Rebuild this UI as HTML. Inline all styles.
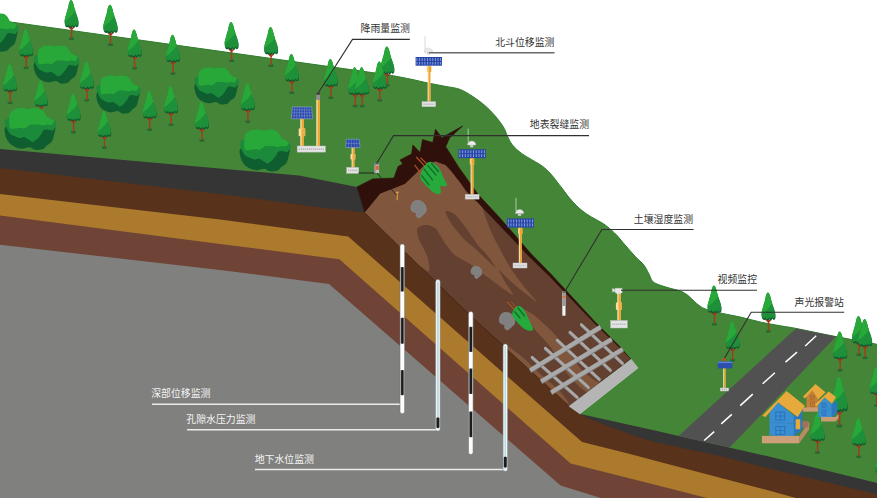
<!DOCTYPE html>
<html lang="zh"><head><meta charset="utf-8"><title>Landslide monitoring</title>
<style>html,body{margin:0;padding:0;background:#fff;font-family:"Liberation Sans",sans-serif}svg{display:block}</style></head>
<body><svg width="877" height="498" viewBox="0 0 877 498">
<rect width="877" height="498" fill="#fff"/>
<path d="M0,20.5L390,75.1C393.3,75.8 403.5,77.7 410.0,79.0C416.5,80.3 423.1,82.0 428.9,83.2C434.7,84.4 439.8,85.3 445.0,86.3C450.2,87.3 455.4,87.7 460.0,89.4C464.6,91.1 468.3,93.6 472.5,96.3C476.7,99.0 481.5,102.7 485.1,105.7C488.7,108.7 491.2,111.5 493.9,114.5C496.6,117.5 499.5,121.3 501.4,123.9C503.2,126.5 504.0,127.9 505.0,130.0C506.0,132.1 506.2,133.8 507.5,136.3C508.8,138.8 510.2,142.3 512.5,145.1C514.8,147.9 518.1,150.8 521.3,153.2C524.4,155.6 527.8,157.3 531.4,159.5C535.0,161.7 539.6,164.1 542.7,166.4C545.8,168.7 547.9,170.9 550.2,173.3C552.5,175.7 554.4,178.4 556.4,181.0C558.4,183.6 560.0,185.6 562.5,188.8C565.0,192.0 568.1,196.6 571.3,200.1C574.4,203.6 578.0,207.3 581.4,210.1C584.8,212.9 587.8,214.8 591.4,217.0C595.0,219.2 599.4,221.1 602.7,223.3C606.1,225.5 609.1,228.1 611.5,230.2C613.9,232.3 615.0,233.3 617.3,235.8C619.6,238.3 622.1,241.6 625.1,245.0C628.1,248.4 632.0,253.0 635.1,256.3C638.2,259.7 641.6,262.2 643.9,265.1C646.2,268.0 647.4,271.2 648.9,273.9C650.4,276.6 650.8,279.5 652.7,281.4C654.6,283.3 657.3,284.0 660.2,285.2C663.1,286.4 666.9,287.3 670.2,288.3C673.5,289.3 677.3,289.9 680.2,291.0C683.1,292.1 684.8,293.1 687.5,295.1C690.2,297.1 693.4,300.9 696.3,303.2C699.2,305.5 700.9,307.2 705.1,308.9C709.3,310.6 715.5,311.8 721.4,313.2C727.2,314.6 733.7,315.5 740.2,317.0C746.7,318.5 753.6,320.5 760.3,322.0C767.0,323.5 774.5,324.7 780.4,325.8C786.3,326.9 786.6,326.6 795.9,328.4C805.2,330.2 822.5,334.0 836.0,336.6C849.5,339.2 870.2,343.0 877.0,344.3L877,498L0,498Z" fill="#458538"/>
<path d="M0,20.5L390,75.1C393.3,75.8 403.5,77.7 410.0,79.0C416.5,80.3 423.1,82.0 428.9,83.2C434.7,84.4 439.8,85.3 445.0,86.3C450.2,87.3 455.4,87.7 460.0,89.4C464.6,91.1 468.3,93.6 472.5,96.3C476.7,99.0 481.5,102.7 485.1,105.7C488.7,108.7 491.2,111.5 493.9,114.5C496.6,117.5 499.5,121.3 501.4,123.9C503.2,126.5 504.0,127.9 505.0,130.0C506.0,132.1 506.2,133.8 507.5,136.3C508.8,138.8 510.2,142.3 512.5,145.1C514.8,147.9 518.1,150.8 521.3,153.2C524.4,155.6 527.8,157.3 531.4,159.5C535.0,161.7 539.6,164.1 542.7,166.4C545.8,168.7 547.9,170.9 550.2,173.3C552.5,175.7 554.4,178.4 556.4,181.0C558.4,183.6 560.0,185.6 562.5,188.8C565.0,192.0 568.1,196.6 571.3,200.1C574.4,203.6 578.0,207.3 581.4,210.1C584.8,212.9 587.8,214.8 591.4,217.0C595.0,219.2 599.4,221.1 602.7,223.3C606.1,225.5 609.1,228.1 611.5,230.2C613.9,232.3 615.0,233.3 617.3,235.8C619.6,238.3 622.1,241.6 625.1,245.0C628.1,248.4 632.0,253.0 635.1,256.3C638.2,259.7 641.6,262.2 643.9,265.1C646.2,268.0 647.4,271.2 648.9,273.9C650.4,276.6 650.8,279.5 652.7,281.4C654.6,283.3 657.3,284.0 660.2,285.2C663.1,286.4 666.9,287.3 670.2,288.3C673.5,289.3 677.3,289.9 680.2,291.0C683.1,292.1 684.8,293.1 687.5,295.1C690.2,297.1 693.4,300.9 696.3,303.2C699.2,305.5 700.9,307.2 705.1,308.9C709.3,310.6 715.5,311.8 721.4,313.2C727.2,314.6 733.7,315.5 740.2,317.0C746.7,318.5 753.6,320.5 760.3,322.0C767.0,323.5 774.5,324.7 780.4,325.8C786.3,326.9 786.6,326.6 795.9,328.4C805.2,330.2 822.5,334.0 836.0,336.6C849.5,339.2 870.2,343.0 877.0,344.3" fill="none" stroke="#2f7d2e" stroke-width="1"/>
<polygon points="0.0,149.0 299.0,175.6 357.0,186.9 361.4,201.3 364.9,212.4 473.1,318.0 569.4,405.7 580.4,414.0 657.0,431.0 767.0,456.1 877.0,483.0 877.0,600.0 0.0,600.0" fill="#353535" />
<polygon points="0.0,168.0 220.0,194.0 320.0,207.4 364.9,212.4 473.1,318.0 569.4,405.7 580.4,414.0 585.2,417.0 610.7,427.0 636.7,436.8 657.0,442.5 720.0,456.0 767.0,468.0 877.0,494.3 877.0,600.0 0.0,600.0" fill="#58321a" />
<polygon points="0.0,194.0 220.0,219.6 348.2,236.5 582.1,442.0 630.0,454.0 660.0,462.0 767.0,490.0 795.9,498.0 877.0,520.0 877.0,600.0 0.0,600.0" fill="#ab7a2c" />
<polygon points="0.0,215.6 220.0,244.0 339.4,259.3 570.6,463.5 660.0,486.0 707.0,498.0 877.0,540.0 877.0,600.0 0.0,600.0" fill="#6f4336" />
<polygon points="0.0,244.7 220.0,270.0 329.0,284.0 560.6,485.6 600.8,498.0 877.0,560.0 877.0,600.0 0.0,600.0" fill="#80807e" />
<polygon points="357.0,186.9 372.7,179.0 394.0,178.0 398.0,166.6 402.8,164.0 400.0,160.0 411.6,154.0 412.9,145.0 420.2,152.6 422.5,139.6 432.8,142.6 435.5,129.2 441.8,137.7 462.5,126.1 449.5,138.1 445.7,146.7 445.7,146.7 459.0,167.7 478.1,194.4 497.2,215.0 515.2,235.5 530.3,253.0 550.8,273.9 565.8,290.2 596.0,322.9 620.0,346.7 630.5,358.8 569.4,405.7 473.1,318.0 364.9,212.4 361.4,201.3" fill="#30100a" stroke="#30100a" stroke-width="0.7" stroke-linejoin="round"/>
<polygon points="364.9,212.4 380.2,193.8 405.0,184.0 424.0,165.8 435.5,161.5 445.5,165.3 451.4,171.5 466.5,191.0 489.5,215.0 511.5,238.0 528.3,256.0 549.0,276.0 564.3,292.0 595.0,324.0 619.3,347.5 630.5,358.8 569.4,405.7 473.1,318.0" fill="#634030" />
<clipPath id="massclip"><polygon points="364.9,212.4 380.2,193.8 405.0,184.0 424.0,165.8 435.5,161.5 445.5,165.3 451.4,171.5 466.5,191.0 489.5,215.0 511.5,238.0 528.3,256.0 549.0,276.0 564.3,292.0 595.0,324.0 619.3,347.5 630.5,358.8 569.4,405.7 473.1,318.0"/></clipPath>
<g clip-path="url(#massclip)">
<path d="M360.0,210.0C357.5,202.5 374.6,193.8 380.2,190.0C385.8,186.2 399.5,183.5 405.0,180.0C410.5,176.5 420.2,164.8 424.0,162.0C427.8,159.2 432.6,158.0 435.5,158.0C438.4,158.0 444.6,160.5 447.0,162.0C449.4,163.5 453.4,167.6 455.0,170.0C456.6,172.4 458.6,178.2 460.0,181.0C461.4,183.8 464.2,189.6 466.0,192.0C467.8,194.4 472.2,198.5 474.0,200.0C475.8,201.5 479.4,202.6 480.6,204.0C481.8,205.4 482.7,209.1 483.6,211.6C484.5,214.1 486.8,220.9 488.0,224.0C489.2,227.1 491.9,233.3 493.4,236.4C494.9,239.5 498.3,245.8 500.0,249.0C501.7,252.2 505.0,258.6 507.0,262.0C509.0,265.4 513.6,272.6 516.0,276.0C518.4,279.4 523.4,285.8 526.0,289.0C528.6,292.2 537.6,301.9 537.0,302.0C536.4,302.1 524.6,292.9 521.0,290.0C517.4,287.1 510.8,281.5 508.0,279.0C505.2,276.5 499.4,269.6 499.0,270.0C498.6,270.4 503.3,278.9 505.0,282.0C506.7,285.1 514.6,295.4 512.7,295.0C510.8,294.6 495.3,282.9 490.0,279.0C484.7,275.1 474.4,267.0 470.0,264.0C465.6,261.0 458.0,257.6 455.0,255.2C452.0,252.8 447.9,247.2 446.0,244.7C444.1,242.2 441.2,236.8 440.0,234.9C438.8,233.0 437.3,230.3 436.2,229.2C435.1,228.1 432.3,226.5 431.0,226.0C429.7,225.5 427.4,225.1 426.1,225.1C424.9,225.1 422.1,225.5 421.0,226.0C419.9,226.5 417.5,227.8 417.1,229.2C416.8,230.6 417.4,234.9 418.2,237.2C418.9,239.4 421.9,244.7 423.1,247.2C424.3,249.7 426.8,255.0 427.5,257.3C428.2,259.6 429.2,263.6 429.1,265.3C429.1,267.0 430.7,272.9 427.1,271.0C423.5,269.1 408.4,257.6 400.0,250.0C391.6,242.4 362.5,217.5 360.0,210.0Z" fill="#80563c" />
<path d="M446.0,210.8C447.1,210.6 452.0,211.9 455.0,214.6C458.0,217.3 463.9,225.3 467.1,229.6C470.3,233.9 474.8,241.1 477.6,244.7C480.4,248.3 484.5,251.8 487.0,255.0C489.5,258.2 495.7,266.9 495.4,267.3C495.1,267.7 487.8,260.5 485.0,258.0C482.2,255.5 478.9,252.0 476.1,249.5C473.3,247.0 468.6,243.8 465.6,240.8C462.6,237.8 457.7,232.1 455.0,228.6C452.3,225.1 448.3,218.5 447.0,216.0C445.7,213.5 444.9,211.0 446.0,210.8Z" fill="#634030" />
<path d="M523.0,309.0C524.0,308.6 531.0,312.9 534.0,315.0C537.0,317.1 541.6,321.8 544.0,324.0C546.4,326.2 547.7,327.0 550.6,330.1C553.5,333.2 560.9,341.1 564.3,345.5C567.7,349.9 571.6,357.0 574.5,360.9C577.4,364.8 581.6,369.9 584.8,372.8C588.0,375.7 593.7,379.7 596.7,381.4C599.7,383.1 605.8,383.2 606.0,385.0C606.2,386.8 600.3,392.8 598.0,394.0C595.7,395.2 592.3,394.1 589.9,393.3C587.5,392.5 584.3,390.6 581.4,388.2C578.5,385.8 572.3,379.6 569.4,376.2C566.5,372.8 563.6,368.4 560.9,364.3C558.2,360.2 554.3,352.1 550.6,347.2C546.9,342.3 538.6,334.3 535.2,330.1C531.8,325.9 528.7,321.0 527.0,318.0C525.3,315.0 522.0,309.4 523.0,309.0Z" fill="#80563c" />
<path d="M507.0,346.5C508.8,345.6 514.0,350.6 516.0,352.0C518.0,353.4 522.1,356.6 525.0,359.2C527.9,361.8 538.2,372.0 542.0,375.5C545.8,379.0 556.2,387.3 559.2,390.5C562.2,393.7 567.9,400.7 569.0,404.0C570.1,407.3 577.1,424.9 569.4,420.0C561.7,415.1 506.9,368.2 500.0,360.0C493.1,351.8 505.2,347.4 507.0,346.5Z" fill="#80563c" />
</g>
<path d="M412.0,211.1C412.8,211.9 415.7,212.5 416.3,213.2C416.9,213.9 415.9,215.3 416.3,216.0C416.7,216.7 418.1,218.0 419.1,217.8C420.1,217.6 422.3,215.6 423.3,214.6C424.3,213.6 425.8,212.4 426.1,211.1C426.4,209.8 426.0,206.9 425.4,205.5C424.8,204.1 423.2,202.3 421.9,201.6C420.6,200.9 417.6,200.4 416.3,200.6C415.0,200.8 413.5,201.7 412.7,202.7C411.9,203.7 411.1,206.4 411.0,207.6C410.9,208.8 411.2,210.3 412.0,211.1Z" fill="#808080" stroke="#8b9297" stroke-width="0.6"/>
<path d="M471.7,273.8C472.2,274.3 474.3,274.8 474.7,275.3C475.2,275.8 474.5,276.8 474.7,277.2C475.0,277.7 476.0,278.7 476.7,278.5C477.4,278.4 479.0,276.9 479.7,276.3C480.4,275.6 481.5,274.7 481.7,273.8C481.9,272.9 481.6,270.8 481.2,269.8C480.8,268.9 479.6,267.6 478.7,267.1C477.8,266.6 475.7,266.3 474.7,266.4C473.8,266.5 472.7,267.1 472.2,267.8C471.7,268.6 471.1,270.5 471.0,271.3C470.9,272.2 471.2,273.2 471.7,273.8Z" fill="#808080" stroke="#8b9297" stroke-width="0.6"/>
<path d="M500.3,323.1C501.1,323.9 504.0,324.5 504.7,325.3C505.3,326.0 504.3,327.4 504.7,328.1C505.1,328.8 506.5,330.1 507.5,329.9C508.5,329.7 510.8,327.6 511.8,326.7C512.8,325.7 514.3,324.4 514.6,323.1C514.9,321.8 514.5,318.8 513.9,317.5C513.3,316.1 511.7,314.2 510.3,313.5C509.0,312.8 506.0,312.3 504.7,312.5C503.3,312.6 501.8,313.6 501.0,314.6C500.3,315.6 499.4,318.4 499.3,319.6C499.2,320.8 499.5,322.3 500.3,323.1Z" fill="#808080" stroke="#8b9297" stroke-width="0.6"/>
<line x1="532.1" y1="358.1" x2="577.3" y2="398.2" stroke="#7e7e7e" stroke-width="2.7" stroke-linecap="round"/>
<line x1="532.1" y1="357.2" x2="577.3" y2="397.3" stroke="#a9a9a9" stroke-width="2.7" stroke-linecap="round"/>
<line x1="545.2" y1="349.0" x2="588.4" y2="388.2" stroke="#7e7e7e" stroke-width="2.7" stroke-linecap="round"/>
<line x1="545.2" y1="348.1" x2="588.4" y2="387.3" stroke="#a9a9a9" stroke-width="2.7" stroke-linecap="round"/>
<line x1="557.2" y1="341.0" x2="599.4" y2="380.1" stroke="#7e7e7e" stroke-width="2.7" stroke-linecap="round"/>
<line x1="557.2" y1="340.1" x2="599.4" y2="379.2" stroke="#a9a9a9" stroke-width="2.7" stroke-linecap="round"/>
<line x1="569.9" y1="333.0" x2="610.5" y2="371.1" stroke="#7e7e7e" stroke-width="2.7" stroke-linecap="round"/>
<line x1="569.9" y1="332.1" x2="610.5" y2="370.2" stroke="#a9a9a9" stroke-width="2.7" stroke-linecap="round"/>
<line x1="581.3" y1="325.3" x2="622.5" y2="364.1" stroke="#7e7e7e" stroke-width="2.7" stroke-linecap="round"/>
<line x1="581.3" y1="324.4" x2="622.5" y2="363.2" stroke="#a9a9a9" stroke-width="2.7" stroke-linecap="round"/>
<line x1="530.2" y1="371.1" x2="600.6" y2="327.8" stroke="#7e7e7e" stroke-width="4.2" stroke-linecap="butt"/>
<line x1="530.2" y1="370.2" x2="600.6" y2="326.9" stroke="#a9a9a9" stroke-width="4.2" stroke-linecap="butt"/>
<line x1="541.2" y1="382.2" x2="611.7" y2="339.9" stroke="#7e7e7e" stroke-width="4.2" stroke-linecap="butt"/>
<line x1="541.2" y1="381.3" x2="611.7" y2="339.0" stroke="#a9a9a9" stroke-width="4.2" stroke-linecap="butt"/>
<line x1="551.2" y1="393.2" x2="622.7" y2="349.9" stroke="#7e7e7e" stroke-width="4.2" stroke-linecap="butt"/>
<line x1="551.2" y1="392.3" x2="622.7" y2="349.0" stroke="#a9a9a9" stroke-width="4.2" stroke-linecap="butt"/>
<polygon points="568.6,406.2 631.3,359.0 638.2,367.8 579.6,414.0" fill="#b5b5b5" />
<polyline points="579.6,414.0 638.2,367.8" fill="none" stroke="#dccfe0" stroke-width="0.6" />
<g transform="translate(71.4,0.0) scale(0.900,1.000)"><path d="M-2.8,37.2 L-1.3,38.3 L-0.4,36.8 L0.5,38.5 L1.5,37.2 L3,38 L2.3,40 L-2.3,40Z" fill="#1c6b33"/><path d="M0.3,25.5 L0.2,38.6 M0.3,29.6 L-3.2,26.4 M0.3,29.6 L3,26.8" stroke="#a8381a" stroke-width="1.5" fill="none"/><g transform="scale(1,0.93)"><path d="M-0.5,0 C1.2,0.4 2.4,4 3,7.5 C3.8,11 5.6,14.5 6.6,18 C7.6,21 8,23.5 7.6,25.5 C7,28.2 4.8,28.2 4.2,26 C3.8,28.6 1.4,28.8 1,26.6 C0.2,29 -2.8,28.8 -3.2,26.4 C-4,28.6 -6.8,28 -7.4,25.2 C-8,22 -7,19 -6,16 C-5,12.5 -4,10 -3.4,7 C-2.8,3.5 -2,0.5 -0.5,0Z" fill="#0f5a2e" transform="translate(0.3,1.7)"/><path d="M-0.5,0 C1.2,0.4 2.4,4 3,7.5 C3.8,11 5.6,14.5 6.6,18 C7.6,21 8,23.5 7.6,25.5 C7,28.2 4.8,28.2 4.2,26 C3.8,28.6 1.4,28.8 1,26.6 C0.2,29 -2.8,28.8 -3.2,26.4 C-4,28.6 -6.8,28 -7.4,25.2 C-8,22 -7,19 -6,16 C-5,12.5 -4,10 -3.4,7 C-2.8,3.5 -2,0.5 -0.5,0Z" fill="#1d9039"/><path d="M-0.5,0 C1.2,0.4 2.4,4 3,7.5 C3.4,9 4,10.2 4.6,11.4 C2,15.5 -2.5,20 -7.6,23.2 C-7.6,20.8 -6.8,18.4 -6,16 C-5,12.5 -4,10 -3.4,7 C-2.8,3.5 -2,0.5 -0.5,0Z" fill="#27a838"/></g></g>
<g transform="translate(110.3,4.8) scale(0.927,1.030)"><path d="M-2.8,37.2 L-1.3,38.3 L-0.4,36.8 L0.5,38.5 L1.5,37.2 L3,38 L2.3,40 L-2.3,40Z" fill="#1c6b33"/><path d="M0.3,25.5 L0.2,38.6 M0.3,29.6 L-3.2,26.4 M0.3,29.6 L3,26.8" stroke="#a8381a" stroke-width="1.5" fill="none"/><g transform="scale(1,0.93)"><path d="M-0.5,0 C1.2,0.4 2.4,4 3,7.5 C3.8,11 5.6,14.5 6.6,18 C7.6,21 8,23.5 7.6,25.5 C7,28.2 4.8,28.2 4.2,26 C3.8,28.6 1.4,28.8 1,26.6 C0.2,29 -2.8,28.8 -3.2,26.4 C-4,28.6 -6.8,28 -7.4,25.2 C-8,22 -7,19 -6,16 C-5,12.5 -4,10 -3.4,7 C-2.8,3.5 -2,0.5 -0.5,0Z" fill="#0f5a2e" transform="translate(0.3,1.7)"/><path d="M-0.5,0 C1.2,0.4 2.4,4 3,7.5 C3.8,11 5.6,14.5 6.6,18 C7.6,21 8,23.5 7.6,25.5 C7,28.2 4.8,28.2 4.2,26 C3.8,28.6 1.4,28.8 1,26.6 C0.2,29 -2.8,28.8 -3.2,26.4 C-4,28.6 -6.8,28 -7.4,25.2 C-8,22 -7,19 -6,16 C-5,12.5 -4,10 -3.4,7 C-2.8,3.5 -2,0.5 -0.5,0Z" fill="#1d9039"/><path d="M-0.5,0 C1.2,0.4 2.4,4 3,7.5 C3.4,9 4,10.2 4.6,11.4 C2,15.5 -2.5,20 -7.6,23.2 C-7.6,20.8 -6.8,18.4 -6,16 C-5,12.5 -4,10 -3.4,7 C-2.8,3.5 -2,0.5 -0.5,0Z" fill="#27a838"/></g></g>
<g transform="translate(-27.0,13.0) scale(1.000,1.000)"><path d="M0.0,18.4C-1.1,20.2 0.3,25.0 0.8,26.8C1.3,28.6 3.1,31.6 4.2,32.8C5.3,34.0 7.9,35.5 9.3,36.1C10.7,36.7 13.6,37.4 15.2,37.4C16.8,37.4 20.4,35.9 21.9,36.1C23.4,36.3 25.5,38.5 27.0,38.7C28.5,38.9 32.5,38.3 33.8,37.8C35.1,37.3 36.1,35.2 37.1,34.4C38.1,33.6 40.6,32.4 41.4,31.1C42.2,29.8 43.2,26.1 43.5,24.3C43.8,22.5 45.6,18.5 43.9,17.0C42.2,15.5 34.2,12.6 30.0,12.0C25.8,11.4 13.8,11.2 10.0,12.0C6.2,12.8 1.1,16.5 0.0,18.4Z" fill="#0f5e30"/><path d="M0.0,11.7C-0.9,13.0 1.1,17.9 1.7,19.3C2.3,20.7 3.9,23.4 5.1,24.3C6.3,25.2 11.4,27.4 12.7,27.7C14.0,28.0 16.0,26.6 16.9,26.8C17.8,27.0 20.3,28.9 21.1,29.4C21.9,29.9 23.7,31.6 24.5,31.5C25.3,31.4 27.9,29.3 28.7,28.5C29.5,27.7 31.5,25.1 32.1,24.3C32.7,23.5 33.2,21.4 33.8,20.9C34.4,20.4 36.2,20.1 37.1,20.1C38.0,20.1 41.3,21.4 42.2,20.9C43.1,20.4 45.5,16.9 45.6,15.9C45.7,14.9 45.2,12.4 43.5,11.5C41.8,10.6 33.7,8.4 30.0,8.0C26.3,7.6 13.3,7.6 10.0,8.0C6.7,8.4 0.9,10.4 0.0,11.7Z" fill="#1b8a3a"/><path d="M3.8,9.1C3.9,7.8 4.4,5.0 5.1,4.1C5.8,3.2 8.8,1.5 10.1,1.1C11.4,0.7 15.7,0.5 16.9,0.5C18.1,0.5 20.2,1.5 21.1,1.5C22.0,1.5 24.2,0.5 25.3,0.5C26.4,0.5 30.2,0.7 31.2,1.1C32.2,1.5 33.9,3.3 34.6,4.1C35.3,4.9 36.1,7.5 37.1,8.3C38.1,9.1 43.0,10.9 43.5,11.7C44.0,12.5 42.1,15.5 41.4,15.9C40.7,16.3 37.9,15.5 37.1,15.5C36.3,15.5 34.7,16.3 33.8,16.3C32.9,16.3 29.9,15.6 28.7,15.5C27.5,15.4 23.6,15.4 22.8,15.5C22.0,15.6 21.8,16.3 21.1,16.7C20.4,17.1 17.6,19.1 16.9,19.3C16.2,19.5 15.9,18.5 15.2,18.4C14.5,18.3 12.1,18.7 11.0,18.8C9.9,18.9 5.9,19.6 5.1,19.3C4.3,19.0 3.9,17.0 3.8,15.9C3.7,14.8 3.7,10.4 3.8,9.1Z" fill="#27a838"/></g>
<g transform="translate(231.4,22.0) scale(0.900,1.000)"><path d="M-2.8,37.2 L-1.3,38.3 L-0.4,36.8 L0.5,38.5 L1.5,37.2 L3,38 L2.3,40 L-2.3,40Z" fill="#1c6b33"/><path d="M0.3,25.5 L0.2,38.6 M0.3,29.6 L-3.2,26.4 M0.3,29.6 L3,26.8" stroke="#a8381a" stroke-width="1.5" fill="none"/><g transform="scale(1,0.93)"><path d="M-0.5,0 C1.2,0.4 2.4,4 3,7.5 C3.8,11 5.6,14.5 6.6,18 C7.6,21 8,23.5 7.6,25.5 C7,28.2 4.8,28.2 4.2,26 C3.8,28.6 1.4,28.8 1,26.6 C0.2,29 -2.8,28.8 -3.2,26.4 C-4,28.6 -6.8,28 -7.4,25.2 C-8,22 -7,19 -6,16 C-5,12.5 -4,10 -3.4,7 C-2.8,3.5 -2,0.5 -0.5,0Z" fill="#0f5a2e" transform="translate(0.3,1.7)"/><path d="M-0.5,0 C1.2,0.4 2.4,4 3,7.5 C3.8,11 5.6,14.5 6.6,18 C7.6,21 8,23.5 7.6,25.5 C7,28.2 4.8,28.2 4.2,26 C3.8,28.6 1.4,28.8 1,26.6 C0.2,29 -2.8,28.8 -3.2,26.4 C-4,28.6 -6.8,28 -7.4,25.2 C-8,22 -7,19 -6,16 C-5,12.5 -4,10 -3.4,7 C-2.8,3.5 -2,0.5 -0.5,0Z" fill="#1d9039"/><path d="M-0.5,0 C1.2,0.4 2.4,4 3,7.5 C3.4,9 4,10.2 4.6,11.4 C2,15.5 -2.5,20 -7.6,23.2 C-7.6,20.8 -6.8,18.4 -6,16 C-5,12.5 -4,10 -3.4,7 C-2.8,3.5 -2,0.5 -0.5,0Z" fill="#27a838"/></g></g>
<g transform="translate(270.9,27.0) scale(0.900,1.000)"><path d="M-2.8,37.2 L-1.3,38.3 L-0.4,36.8 L0.5,38.5 L1.5,37.2 L3,38 L2.3,40 L-2.3,40Z" fill="#1c6b33"/><path d="M0.3,25.5 L0.2,38.6 M0.3,29.6 L-3.2,26.4 M0.3,29.6 L3,26.8" stroke="#a8381a" stroke-width="1.5" fill="none"/><g transform="scale(1,0.93)"><path d="M-0.5,0 C1.2,0.4 2.4,4 3,7.5 C3.8,11 5.6,14.5 6.6,18 C7.6,21 8,23.5 7.6,25.5 C7,28.2 4.8,28.2 4.2,26 C3.8,28.6 1.4,28.8 1,26.6 C0.2,29 -2.8,28.8 -3.2,26.4 C-4,28.6 -6.8,28 -7.4,25.2 C-8,22 -7,19 -6,16 C-5,12.5 -4,10 -3.4,7 C-2.8,3.5 -2,0.5 -0.5,0Z" fill="#0f5a2e" transform="translate(0.3,1.7)"/><path d="M-0.5,0 C1.2,0.4 2.4,4 3,7.5 C3.8,11 5.6,14.5 6.6,18 C7.6,21 8,23.5 7.6,25.5 C7,28.2 4.8,28.2 4.2,26 C3.8,28.6 1.4,28.8 1,26.6 C0.2,29 -2.8,28.8 -3.2,26.4 C-4,28.6 -6.8,28 -7.4,25.2 C-8,22 -7,19 -6,16 C-5,12.5 -4,10 -3.4,7 C-2.8,3.5 -2,0.5 -0.5,0Z" fill="#1d9039"/><path d="M-0.5,0 C1.2,0.4 2.4,4 3,7.5 C3.4,9 4,10.2 4.6,11.4 C2,15.5 -2.5,20 -7.6,23.2 C-7.6,20.8 -6.8,18.4 -6,16 C-5,12.5 -4,10 -3.4,7 C-2.8,3.5 -2,0.5 -0.5,0Z" fill="#27a838"/></g></g>
<g transform="translate(26.0,29.0) scale(0.900,1.000)"><path d="M-2.8,37.2 L-1.3,38.3 L-0.4,36.8 L0.5,38.5 L1.5,37.2 L3,38 L2.3,40 L-2.3,40Z" fill="#1c6b33"/><path d="M0.3,25.5 L0.2,38.6 M0.3,29.6 L-3.2,26.4 M0.3,29.6 L3,26.8" stroke="#a8381a" stroke-width="1.5" fill="none"/><g transform="scale(1,0.93)"><path d="M-0.5,0 C1.2,0.4 2.4,4 3,7.5 C3.8,11 5.6,14.5 6.6,18 C7.6,21 8,23.5 7.6,25.5 C7,28.2 4.8,28.2 4.2,26 C3.8,28.6 1.4,28.8 1,26.6 C0.2,29 -2.8,28.8 -3.2,26.4 C-4,28.6 -6.8,28 -7.4,25.2 C-8,22 -7,19 -6,16 C-5,12.5 -4,10 -3.4,7 C-2.8,3.5 -2,0.5 -0.5,0Z" fill="#0f5a2e" transform="translate(0.3,1.7)"/><path d="M-0.5,0 C1.2,0.4 2.4,4 3,7.5 C3.8,11 5.6,14.5 6.6,18 C7.6,21 8,23.5 7.6,25.5 C7,28.2 4.8,28.2 4.2,26 C3.8,28.6 1.4,28.8 1,26.6 C0.2,29 -2.8,28.8 -3.2,26.4 C-4,28.6 -6.8,28 -7.4,25.2 C-8,22 -7,19 -6,16 C-5,12.5 -4,10 -3.4,7 C-2.8,3.5 -2,0.5 -0.5,0Z" fill="#1d9039"/><path d="M-0.5,0 C1.2,0.4 2.4,4 3,7.5 C3.4,9 4,10.2 4.6,11.4 C2,15.5 -2.5,20 -7.6,23.2 C-7.6,20.8 -6.8,18.4 -6,16 C-5,12.5 -4,10 -3.4,7 C-2.8,3.5 -2,0.5 -0.5,0Z" fill="#27a838"/></g></g>
<g transform="translate(134.4,29.6) scale(0.900,1.000)"><path d="M-2.8,37.2 L-1.3,38.3 L-0.4,36.8 L0.5,38.5 L1.5,37.2 L3,38 L2.3,40 L-2.3,40Z" fill="#1c6b33"/><path d="M0.3,25.5 L0.2,38.6 M0.3,29.6 L-3.2,26.4 M0.3,29.6 L3,26.8" stroke="#a8381a" stroke-width="1.5" fill="none"/><g transform="scale(1,0.93)"><path d="M-0.5,0 C1.2,0.4 2.4,4 3,7.5 C3.8,11 5.6,14.5 6.6,18 C7.6,21 8,23.5 7.6,25.5 C7,28.2 4.8,28.2 4.2,26 C3.8,28.6 1.4,28.8 1,26.6 C0.2,29 -2.8,28.8 -3.2,26.4 C-4,28.6 -6.8,28 -7.4,25.2 C-8,22 -7,19 -6,16 C-5,12.5 -4,10 -3.4,7 C-2.8,3.5 -2,0.5 -0.5,0Z" fill="#0f5a2e" transform="translate(0.3,1.7)"/><path d="M-0.5,0 C1.2,0.4 2.4,4 3,7.5 C3.8,11 5.6,14.5 6.6,18 C7.6,21 8,23.5 7.6,25.5 C7,28.2 4.8,28.2 4.2,26 C3.8,28.6 1.4,28.8 1,26.6 C0.2,29 -2.8,28.8 -3.2,26.4 C-4,28.6 -6.8,28 -7.4,25.2 C-8,22 -7,19 -6,16 C-5,12.5 -4,10 -3.4,7 C-2.8,3.5 -2,0.5 -0.5,0Z" fill="#1d9039"/><path d="M-0.5,0 C1.2,0.4 2.4,4 3,7.5 C3.4,9 4,10.2 4.6,11.4 C2,15.5 -2.5,20 -7.6,23.2 C-7.6,20.8 -6.8,18.4 -6,16 C-5,12.5 -4,10 -3.4,7 C-2.8,3.5 -2,0.5 -0.5,0Z" fill="#27a838"/></g></g>
<g transform="translate(172.9,34.7) scale(0.900,1.000)"><path d="M-2.8,37.2 L-1.3,38.3 L-0.4,36.8 L0.5,38.5 L1.5,37.2 L3,38 L2.3,40 L-2.3,40Z" fill="#1c6b33"/><path d="M0.3,25.5 L0.2,38.6 M0.3,29.6 L-3.2,26.4 M0.3,29.6 L3,26.8" stroke="#a8381a" stroke-width="1.5" fill="none"/><g transform="scale(1,0.93)"><path d="M-0.5,0 C1.2,0.4 2.4,4 3,7.5 C3.8,11 5.6,14.5 6.6,18 C7.6,21 8,23.5 7.6,25.5 C7,28.2 4.8,28.2 4.2,26 C3.8,28.6 1.4,28.8 1,26.6 C0.2,29 -2.8,28.8 -3.2,26.4 C-4,28.6 -6.8,28 -7.4,25.2 C-8,22 -7,19 -6,16 C-5,12.5 -4,10 -3.4,7 C-2.8,3.5 -2,0.5 -0.5,0Z" fill="#0f5a2e" transform="translate(0.3,1.7)"/><path d="M-0.5,0 C1.2,0.4 2.4,4 3,7.5 C3.8,11 5.6,14.5 6.6,18 C7.6,21 8,23.5 7.6,25.5 C7,28.2 4.8,28.2 4.2,26 C3.8,28.6 1.4,28.8 1,26.6 C0.2,29 -2.8,28.8 -3.2,26.4 C-4,28.6 -6.8,28 -7.4,25.2 C-8,22 -7,19 -6,16 C-5,12.5 -4,10 -3.4,7 C-2.8,3.5 -2,0.5 -0.5,0Z" fill="#1d9039"/><path d="M-0.5,0 C1.2,0.4 2.4,4 3,7.5 C3.4,9 4,10.2 4.6,11.4 C2,15.5 -2.5,20 -7.6,23.2 C-7.6,20.8 -6.8,18.4 -6,16 C-5,12.5 -4,10 -3.4,7 C-2.8,3.5 -2,0.5 -0.5,0Z" fill="#27a838"/></g></g>
<g transform="translate(34.0,45.0) scale(1.000,1.000)"><path d="M0.0,18.4C-1.1,20.2 0.3,25.0 0.8,26.8C1.3,28.6 3.1,31.6 4.2,32.8C5.3,34.0 7.9,35.5 9.3,36.1C10.7,36.7 13.6,37.4 15.2,37.4C16.8,37.4 20.4,35.9 21.9,36.1C23.4,36.3 25.5,38.5 27.0,38.7C28.5,38.9 32.5,38.3 33.8,37.8C35.1,37.3 36.1,35.2 37.1,34.4C38.1,33.6 40.6,32.4 41.4,31.1C42.2,29.8 43.2,26.1 43.5,24.3C43.8,22.5 45.6,18.5 43.9,17.0C42.2,15.5 34.2,12.6 30.0,12.0C25.8,11.4 13.8,11.2 10.0,12.0C6.2,12.8 1.1,16.5 0.0,18.4Z" fill="#0f5e30"/><path d="M0.0,11.7C-0.9,13.0 1.1,17.9 1.7,19.3C2.3,20.7 3.9,23.4 5.1,24.3C6.3,25.2 11.4,27.4 12.7,27.7C14.0,28.0 16.0,26.6 16.9,26.8C17.8,27.0 20.3,28.9 21.1,29.4C21.9,29.9 23.7,31.6 24.5,31.5C25.3,31.4 27.9,29.3 28.7,28.5C29.5,27.7 31.5,25.1 32.1,24.3C32.7,23.5 33.2,21.4 33.8,20.9C34.4,20.4 36.2,20.1 37.1,20.1C38.0,20.1 41.3,21.4 42.2,20.9C43.1,20.4 45.5,16.9 45.6,15.9C45.7,14.9 45.2,12.4 43.5,11.5C41.8,10.6 33.7,8.4 30.0,8.0C26.3,7.6 13.3,7.6 10.0,8.0C6.7,8.4 0.9,10.4 0.0,11.7Z" fill="#1b8a3a"/><path d="M3.8,9.1C3.9,7.8 4.4,5.0 5.1,4.1C5.8,3.2 8.8,1.5 10.1,1.1C11.4,0.7 15.7,0.5 16.9,0.5C18.1,0.5 20.2,1.5 21.1,1.5C22.0,1.5 24.2,0.5 25.3,0.5C26.4,0.5 30.2,0.7 31.2,1.1C32.2,1.5 33.9,3.3 34.6,4.1C35.3,4.9 36.1,7.5 37.1,8.3C38.1,9.1 43.0,10.9 43.5,11.7C44.0,12.5 42.1,15.5 41.4,15.9C40.7,16.3 37.9,15.5 37.1,15.5C36.3,15.5 34.7,16.3 33.8,16.3C32.9,16.3 29.9,15.6 28.7,15.5C27.5,15.4 23.6,15.4 22.8,15.5C22.0,15.6 21.8,16.3 21.1,16.7C20.4,17.1 17.6,19.1 16.9,19.3C16.2,19.5 15.9,18.5 15.2,18.4C14.5,18.3 12.1,18.7 11.0,18.8C9.9,18.9 5.9,19.6 5.1,19.3C4.3,19.0 3.9,17.0 3.8,15.9C3.7,14.8 3.7,10.4 3.8,9.1Z" fill="#27a838"/></g>
<g transform="translate(387.2,46.5) scale(0.900,1.000)"><path d="M-2.8,37.2 L-1.3,38.3 L-0.4,36.8 L0.5,38.5 L1.5,37.2 L3,38 L2.3,40 L-2.3,40Z" fill="#1c6b33"/><path d="M0.3,25.5 L0.2,38.6 M0.3,29.6 L-3.2,26.4 M0.3,29.6 L3,26.8" stroke="#a8381a" stroke-width="1.5" fill="none"/><g transform="scale(1,0.93)"><path d="M-0.5,0 C1.2,0.4 2.4,4 3,7.5 C3.8,11 5.6,14.5 6.6,18 C7.6,21 8,23.5 7.6,25.5 C7,28.2 4.8,28.2 4.2,26 C3.8,28.6 1.4,28.8 1,26.6 C0.2,29 -2.8,28.8 -3.2,26.4 C-4,28.6 -6.8,28 -7.4,25.2 C-8,22 -7,19 -6,16 C-5,12.5 -4,10 -3.4,7 C-2.8,3.5 -2,0.5 -0.5,0Z" fill="#0f5a2e" transform="translate(0.3,1.7)"/><path d="M-0.5,0 C1.2,0.4 2.4,4 3,7.5 C3.8,11 5.6,14.5 6.6,18 C7.6,21 8,23.5 7.6,25.5 C7,28.2 4.8,28.2 4.2,26 C3.8,28.6 1.4,28.8 1,26.6 C0.2,29 -2.8,28.8 -3.2,26.4 C-4,28.6 -6.8,28 -7.4,25.2 C-8,22 -7,19 -6,16 C-5,12.5 -4,10 -3.4,7 C-2.8,3.5 -2,0.5 -0.5,0Z" fill="#1d9039"/><path d="M-0.5,0 C1.2,0.4 2.4,4 3,7.5 C3.4,9 4,10.2 4.6,11.4 C2,15.5 -2.5,20 -7.6,23.2 C-7.6,20.8 -6.8,18.4 -6,16 C-5,12.5 -4,10 -3.4,7 C-2.8,3.5 -2,0.5 -0.5,0Z" fill="#27a838"/></g></g>
<g transform="translate(291.7,54.0) scale(0.900,1.000)"><path d="M-2.8,37.2 L-1.3,38.3 L-0.4,36.8 L0.5,38.5 L1.5,37.2 L3,38 L2.3,40 L-2.3,40Z" fill="#1c6b33"/><path d="M0.3,25.5 L0.2,38.6 M0.3,29.6 L-3.2,26.4 M0.3,29.6 L3,26.8" stroke="#a8381a" stroke-width="1.5" fill="none"/><g transform="scale(1,0.93)"><path d="M-0.5,0 C1.2,0.4 2.4,4 3,7.5 C3.8,11 5.6,14.5 6.6,18 C7.6,21 8,23.5 7.6,25.5 C7,28.2 4.8,28.2 4.2,26 C3.8,28.6 1.4,28.8 1,26.6 C0.2,29 -2.8,28.8 -3.2,26.4 C-4,28.6 -6.8,28 -7.4,25.2 C-8,22 -7,19 -6,16 C-5,12.5 -4,10 -3.4,7 C-2.8,3.5 -2,0.5 -0.5,0Z" fill="#0f5a2e" transform="translate(0.3,1.7)"/><path d="M-0.5,0 C1.2,0.4 2.4,4 3,7.5 C3.8,11 5.6,14.5 6.6,18 C7.6,21 8,23.5 7.6,25.5 C7,28.2 4.8,28.2 4.2,26 C3.8,28.6 1.4,28.8 1,26.6 C0.2,29 -2.8,28.8 -3.2,26.4 C-4,28.6 -6.8,28 -7.4,25.2 C-8,22 -7,19 -6,16 C-5,12.5 -4,10 -3.4,7 C-2.8,3.5 -2,0.5 -0.5,0Z" fill="#1d9039"/><path d="M-0.5,0 C1.2,0.4 2.4,4 3,7.5 C3.4,9 4,10.2 4.6,11.4 C2,15.5 -2.5,20 -7.6,23.2 C-7.6,20.8 -6.8,18.4 -6,16 C-5,12.5 -4,10 -3.4,7 C-2.8,3.5 -2,0.5 -0.5,0Z" fill="#27a838"/></g></g>
<g transform="translate(330.7,59.0) scale(0.900,1.000)"><path d="M-2.8,37.2 L-1.3,38.3 L-0.4,36.8 L0.5,38.5 L1.5,37.2 L3,38 L2.3,40 L-2.3,40Z" fill="#1c6b33"/><path d="M0.3,25.5 L0.2,38.6 M0.3,29.6 L-3.2,26.4 M0.3,29.6 L3,26.8" stroke="#a8381a" stroke-width="1.5" fill="none"/><g transform="scale(1,0.93)"><path d="M-0.5,0 C1.2,0.4 2.4,4 3,7.5 C3.8,11 5.6,14.5 6.6,18 C7.6,21 8,23.5 7.6,25.5 C7,28.2 4.8,28.2 4.2,26 C3.8,28.6 1.4,28.8 1,26.6 C0.2,29 -2.8,28.8 -3.2,26.4 C-4,28.6 -6.8,28 -7.4,25.2 C-8,22 -7,19 -6,16 C-5,12.5 -4,10 -3.4,7 C-2.8,3.5 -2,0.5 -0.5,0Z" fill="#0f5a2e" transform="translate(0.3,1.7)"/><path d="M-0.5,0 C1.2,0.4 2.4,4 3,7.5 C3.8,11 5.6,14.5 6.6,18 C7.6,21 8,23.5 7.6,25.5 C7,28.2 4.8,28.2 4.2,26 C3.8,28.6 1.4,28.8 1,26.6 C0.2,29 -2.8,28.8 -3.2,26.4 C-4,28.6 -6.8,28 -7.4,25.2 C-8,22 -7,19 -6,16 C-5,12.5 -4,10 -3.4,7 C-2.8,3.5 -2,0.5 -0.5,0Z" fill="#1d9039"/><path d="M-0.5,0 C1.2,0.4 2.4,4 3,7.5 C3.4,9 4,10.2 4.6,11.4 C2,15.5 -2.5,20 -7.6,23.2 C-7.6,20.8 -6.8,18.4 -6,16 C-5,12.5 -4,10 -3.4,7 C-2.8,3.5 -2,0.5 -0.5,0Z" fill="#27a838"/></g></g>
<g transform="translate(86.7,61.6) scale(0.900,1.000)"><path d="M-2.8,37.2 L-1.3,38.3 L-0.4,36.8 L0.5,38.5 L1.5,37.2 L3,38 L2.3,40 L-2.3,40Z" fill="#1c6b33"/><path d="M0.3,25.5 L0.2,38.6 M0.3,29.6 L-3.2,26.4 M0.3,29.6 L3,26.8" stroke="#a8381a" stroke-width="1.5" fill="none"/><g transform="scale(1,0.93)"><path d="M-0.5,0 C1.2,0.4 2.4,4 3,7.5 C3.8,11 5.6,14.5 6.6,18 C7.6,21 8,23.5 7.6,25.5 C7,28.2 4.8,28.2 4.2,26 C3.8,28.6 1.4,28.8 1,26.6 C0.2,29 -2.8,28.8 -3.2,26.4 C-4,28.6 -6.8,28 -7.4,25.2 C-8,22 -7,19 -6,16 C-5,12.5 -4,10 -3.4,7 C-2.8,3.5 -2,0.5 -0.5,0Z" fill="#0f5a2e" transform="translate(0.3,1.7)"/><path d="M-0.5,0 C1.2,0.4 2.4,4 3,7.5 C3.8,11 5.6,14.5 6.6,18 C7.6,21 8,23.5 7.6,25.5 C7,28.2 4.8,28.2 4.2,26 C3.8,28.6 1.4,28.8 1,26.6 C0.2,29 -2.8,28.8 -3.2,26.4 C-4,28.6 -6.8,28 -7.4,25.2 C-8,22 -7,19 -6,16 C-5,12.5 -4,10 -3.4,7 C-2.8,3.5 -2,0.5 -0.5,0Z" fill="#1d9039"/><path d="M-0.5,0 C1.2,0.4 2.4,4 3,7.5 C3.4,9 4,10.2 4.6,11.4 C2,15.5 -2.5,20 -7.6,23.2 C-7.6,20.8 -6.8,18.4 -6,16 C-5,12.5 -4,10 -3.4,7 C-2.8,3.5 -2,0.5 -0.5,0Z" fill="#27a838"/></g></g>
<g transform="translate(379.6,61.6) scale(0.900,1.000)"><path d="M-2.8,37.2 L-1.3,38.3 L-0.4,36.8 L0.5,38.5 L1.5,37.2 L3,38 L2.3,40 L-2.3,40Z" fill="#1c6b33"/><path d="M0.3,25.5 L0.2,38.6 M0.3,29.6 L-3.2,26.4 M0.3,29.6 L3,26.8" stroke="#a8381a" stroke-width="1.5" fill="none"/><g transform="scale(1,0.93)"><path d="M-0.5,0 C1.2,0.4 2.4,4 3,7.5 C3.8,11 5.6,14.5 6.6,18 C7.6,21 8,23.5 7.6,25.5 C7,28.2 4.8,28.2 4.2,26 C3.8,28.6 1.4,28.8 1,26.6 C0.2,29 -2.8,28.8 -3.2,26.4 C-4,28.6 -6.8,28 -7.4,25.2 C-8,22 -7,19 -6,16 C-5,12.5 -4,10 -3.4,7 C-2.8,3.5 -2,0.5 -0.5,0Z" fill="#0f5a2e" transform="translate(0.3,1.7)"/><path d="M-0.5,0 C1.2,0.4 2.4,4 3,7.5 C3.8,11 5.6,14.5 6.6,18 C7.6,21 8,23.5 7.6,25.5 C7,28.2 4.8,28.2 4.2,26 C3.8,28.6 1.4,28.8 1,26.6 C0.2,29 -2.8,28.8 -3.2,26.4 C-4,28.6 -6.8,28 -7.4,25.2 C-8,22 -7,19 -6,16 C-5,12.5 -4,10 -3.4,7 C-2.8,3.5 -2,0.5 -0.5,0Z" fill="#1d9039"/><path d="M-0.5,0 C1.2,0.4 2.4,4 3,7.5 C3.4,9 4,10.2 4.6,11.4 C2,15.5 -2.5,20 -7.6,23.2 C-7.6,20.8 -6.8,18.4 -6,16 C-5,12.5 -4,10 -3.4,7 C-2.8,3.5 -2,0.5 -0.5,0Z" fill="#27a838"/></g></g>
<g transform="translate(194.7,67.0) scale(0.970,0.970)"><path d="M0.0,18.4C-1.1,20.2 0.3,25.0 0.8,26.8C1.3,28.6 3.1,31.6 4.2,32.8C5.3,34.0 7.9,35.5 9.3,36.1C10.7,36.7 13.6,37.4 15.2,37.4C16.8,37.4 20.4,35.9 21.9,36.1C23.4,36.3 25.5,38.5 27.0,38.7C28.5,38.9 32.5,38.3 33.8,37.8C35.1,37.3 36.1,35.2 37.1,34.4C38.1,33.6 40.6,32.4 41.4,31.1C42.2,29.8 43.2,26.1 43.5,24.3C43.8,22.5 45.6,18.5 43.9,17.0C42.2,15.5 34.2,12.6 30.0,12.0C25.8,11.4 13.8,11.2 10.0,12.0C6.2,12.8 1.1,16.5 0.0,18.4Z" fill="#0f5e30"/><path d="M0.0,11.7C-0.9,13.0 1.1,17.9 1.7,19.3C2.3,20.7 3.9,23.4 5.1,24.3C6.3,25.2 11.4,27.4 12.7,27.7C14.0,28.0 16.0,26.6 16.9,26.8C17.8,27.0 20.3,28.9 21.1,29.4C21.9,29.9 23.7,31.6 24.5,31.5C25.3,31.4 27.9,29.3 28.7,28.5C29.5,27.7 31.5,25.1 32.1,24.3C32.7,23.5 33.2,21.4 33.8,20.9C34.4,20.4 36.2,20.1 37.1,20.1C38.0,20.1 41.3,21.4 42.2,20.9C43.1,20.4 45.5,16.9 45.6,15.9C45.7,14.9 45.2,12.4 43.5,11.5C41.8,10.6 33.7,8.4 30.0,8.0C26.3,7.6 13.3,7.6 10.0,8.0C6.7,8.4 0.9,10.4 0.0,11.7Z" fill="#1b8a3a"/><path d="M3.8,9.1C3.9,7.8 4.4,5.0 5.1,4.1C5.8,3.2 8.8,1.5 10.1,1.1C11.4,0.7 15.7,0.5 16.9,0.5C18.1,0.5 20.2,1.5 21.1,1.5C22.0,1.5 24.2,0.5 25.3,0.5C26.4,0.5 30.2,0.7 31.2,1.1C32.2,1.5 33.9,3.3 34.6,4.1C35.3,4.9 36.1,7.5 37.1,8.3C38.1,9.1 43.0,10.9 43.5,11.7C44.0,12.5 42.1,15.5 41.4,15.9C40.7,16.3 37.9,15.5 37.1,15.5C36.3,15.5 34.7,16.3 33.8,16.3C32.9,16.3 29.9,15.6 28.7,15.5C27.5,15.4 23.6,15.4 22.8,15.5C22.0,15.6 21.8,16.3 21.1,16.7C20.4,17.1 17.6,19.1 16.9,19.3C16.2,19.5 15.9,18.5 15.2,18.4C14.5,18.3 12.1,18.7 11.0,18.8C9.9,18.9 5.9,19.6 5.1,19.3C4.3,19.0 3.9,17.0 3.8,15.9C3.7,14.8 3.7,10.4 3.8,9.1Z" fill="#27a838"/></g>
<g transform="translate(10.0,64.0) scale(0.900,1.000)"><path d="M-2.8,37.2 L-1.3,38.3 L-0.4,36.8 L0.5,38.5 L1.5,37.2 L3,38 L2.3,40 L-2.3,40Z" fill="#1c6b33"/><path d="M0.3,25.5 L0.2,38.6 M0.3,29.6 L-3.2,26.4 M0.3,29.6 L3,26.8" stroke="#a8381a" stroke-width="1.5" fill="none"/><g transform="scale(1,0.93)"><path d="M-0.5,0 C1.2,0.4 2.4,4 3,7.5 C3.8,11 5.6,14.5 6.6,18 C7.6,21 8,23.5 7.6,25.5 C7,28.2 4.8,28.2 4.2,26 C3.8,28.6 1.4,28.8 1,26.6 C0.2,29 -2.8,28.8 -3.2,26.4 C-4,28.6 -6.8,28 -7.4,25.2 C-8,22 -7,19 -6,16 C-5,12.5 -4,10 -3.4,7 C-2.8,3.5 -2,0.5 -0.5,0Z" fill="#0f5a2e" transform="translate(0.3,1.7)"/><path d="M-0.5,0 C1.2,0.4 2.4,4 3,7.5 C3.8,11 5.6,14.5 6.6,18 C7.6,21 8,23.5 7.6,25.5 C7,28.2 4.8,28.2 4.2,26 C3.8,28.6 1.4,28.8 1,26.6 C0.2,29 -2.8,28.8 -3.2,26.4 C-4,28.6 -6.8,28 -7.4,25.2 C-8,22 -7,19 -6,16 C-5,12.5 -4,10 -3.4,7 C-2.8,3.5 -2,0.5 -0.5,0Z" fill="#1d9039"/><path d="M-0.5,0 C1.2,0.4 2.4,4 3,7.5 C3.4,9 4,10.2 4.6,11.4 C2,15.5 -2.5,20 -7.6,23.2 C-7.6,20.8 -6.8,18.4 -6,16 C-5,12.5 -4,10 -3.4,7 C-2.8,3.5 -2,0.5 -0.5,0Z" fill="#27a838"/></g></g>
<g transform="translate(355.0,67.3) scale(0.900,1.000)"><path d="M-2.8,37.2 L-1.3,38.3 L-0.4,36.8 L0.5,38.5 L1.5,37.2 L3,38 L2.3,40 L-2.3,40Z" fill="#1c6b33"/><path d="M0.3,25.5 L0.2,38.6 M0.3,29.6 L-3.2,26.4 M0.3,29.6 L3,26.8" stroke="#a8381a" stroke-width="1.5" fill="none"/><g transform="scale(1,0.93)"><path d="M-0.5,0 C1.2,0.4 2.4,4 3,7.5 C3.8,11 5.6,14.5 6.6,18 C7.6,21 8,23.5 7.6,25.5 C7,28.2 4.8,28.2 4.2,26 C3.8,28.6 1.4,28.8 1,26.6 C0.2,29 -2.8,28.8 -3.2,26.4 C-4,28.6 -6.8,28 -7.4,25.2 C-8,22 -7,19 -6,16 C-5,12.5 -4,10 -3.4,7 C-2.8,3.5 -2,0.5 -0.5,0Z" fill="#0f5a2e" transform="translate(0.3,1.7)"/><path d="M-0.5,0 C1.2,0.4 2.4,4 3,7.5 C3.8,11 5.6,14.5 6.6,18 C7.6,21 8,23.5 7.6,25.5 C7,28.2 4.8,28.2 4.2,26 C3.8,28.6 1.4,28.8 1,26.6 C0.2,29 -2.8,28.8 -3.2,26.4 C-4,28.6 -6.8,28 -7.4,25.2 C-8,22 -7,19 -6,16 C-5,12.5 -4,10 -3.4,7 C-2.8,3.5 -2,0.5 -0.5,0Z" fill="#1d9039"/><path d="M-0.5,0 C1.2,0.4 2.4,4 3,7.5 C3.4,9 4,10.2 4.6,11.4 C2,15.5 -2.5,20 -7.6,23.2 C-7.6,20.8 -6.8,18.4 -6,16 C-5,12.5 -4,10 -3.4,7 C-2.8,3.5 -2,0.5 -0.5,0Z" fill="#27a838"/></g></g>
<g transform="translate(362.0,67.3) scale(0.900,1.000)"><path d="M-2.8,37.2 L-1.3,38.3 L-0.4,36.8 L0.5,38.5 L1.5,37.2 L3,38 L2.3,40 L-2.3,40Z" fill="#1c6b33"/><path d="M0.3,25.5 L0.2,38.6 M0.3,29.6 L-3.2,26.4 M0.3,29.6 L3,26.8" stroke="#a8381a" stroke-width="1.5" fill="none"/><g transform="scale(1,0.93)"><path d="M-0.5,0 C1.2,0.4 2.4,4 3,7.5 C3.8,11 5.6,14.5 6.6,18 C7.6,21 8,23.5 7.6,25.5 C7,28.2 4.8,28.2 4.2,26 C3.8,28.6 1.4,28.8 1,26.6 C0.2,29 -2.8,28.8 -3.2,26.4 C-4,28.6 -6.8,28 -7.4,25.2 C-8,22 -7,19 -6,16 C-5,12.5 -4,10 -3.4,7 C-2.8,3.5 -2,0.5 -0.5,0Z" fill="#0f5a2e" transform="translate(0.3,1.7)"/><path d="M-0.5,0 C1.2,0.4 2.4,4 3,7.5 C3.8,11 5.6,14.5 6.6,18 C7.6,21 8,23.5 7.6,25.5 C7,28.2 4.8,28.2 4.2,26 C3.8,28.6 1.4,28.8 1,26.6 C0.2,29 -2.8,28.8 -3.2,26.4 C-4,28.6 -6.8,28 -7.4,25.2 C-8,22 -7,19 -6,16 C-5,12.5 -4,10 -3.4,7 C-2.8,3.5 -2,0.5 -0.5,0Z" fill="#1d9039"/><path d="M-0.5,0 C1.2,0.4 2.4,4 3,7.5 C3.4,9 4,10.2 4.6,11.4 C2,15.5 -2.5,20 -7.6,23.2 C-7.6,20.8 -6.8,18.4 -6,16 C-5,12.5 -4,10 -3.4,7 C-2.8,3.5 -2,0.5 -0.5,0Z" fill="#27a838"/></g></g>
<g transform="translate(96.7,75.0) scale(0.960,1.000)"><path d="M0.0,18.4C-1.1,20.2 0.3,25.0 0.8,26.8C1.3,28.6 3.1,31.6 4.2,32.8C5.3,34.0 7.9,35.5 9.3,36.1C10.7,36.7 13.6,37.4 15.2,37.4C16.8,37.4 20.4,35.9 21.9,36.1C23.4,36.3 25.5,38.5 27.0,38.7C28.5,38.9 32.5,38.3 33.8,37.8C35.1,37.3 36.1,35.2 37.1,34.4C38.1,33.6 40.6,32.4 41.4,31.1C42.2,29.8 43.2,26.1 43.5,24.3C43.8,22.5 45.6,18.5 43.9,17.0C42.2,15.5 34.2,12.6 30.0,12.0C25.8,11.4 13.8,11.2 10.0,12.0C6.2,12.8 1.1,16.5 0.0,18.4Z" fill="#0f5e30"/><path d="M0.0,11.7C-0.9,13.0 1.1,17.9 1.7,19.3C2.3,20.7 3.9,23.4 5.1,24.3C6.3,25.2 11.4,27.4 12.7,27.7C14.0,28.0 16.0,26.6 16.9,26.8C17.8,27.0 20.3,28.9 21.1,29.4C21.9,29.9 23.7,31.6 24.5,31.5C25.3,31.4 27.9,29.3 28.7,28.5C29.5,27.7 31.5,25.1 32.1,24.3C32.7,23.5 33.2,21.4 33.8,20.9C34.4,20.4 36.2,20.1 37.1,20.1C38.0,20.1 41.3,21.4 42.2,20.9C43.1,20.4 45.5,16.9 45.6,15.9C45.7,14.9 45.2,12.4 43.5,11.5C41.8,10.6 33.7,8.4 30.0,8.0C26.3,7.6 13.3,7.6 10.0,8.0C6.7,8.4 0.9,10.4 0.0,11.7Z" fill="#1b8a3a"/><path d="M3.8,9.1C3.9,7.8 4.4,5.0 5.1,4.1C5.8,3.2 8.8,1.5 10.1,1.1C11.4,0.7 15.7,0.5 16.9,0.5C18.1,0.5 20.2,1.5 21.1,1.5C22.0,1.5 24.2,0.5 25.3,0.5C26.4,0.5 30.2,0.7 31.2,1.1C32.2,1.5 33.9,3.3 34.6,4.1C35.3,4.9 36.1,7.5 37.1,8.3C38.1,9.1 43.0,10.9 43.5,11.7C44.0,12.5 42.1,15.5 41.4,15.9C40.7,16.3 37.9,15.5 37.1,15.5C36.3,15.5 34.7,16.3 33.8,16.3C32.9,16.3 29.9,15.6 28.7,15.5C27.5,15.4 23.6,15.4 22.8,15.5C22.0,15.6 21.8,16.3 21.1,16.7C20.4,17.1 17.6,19.1 16.9,19.3C16.2,19.5 15.9,18.5 15.2,18.4C14.5,18.3 12.1,18.7 11.0,18.8C9.9,18.9 5.9,19.6 5.1,19.3C4.3,19.0 3.9,17.0 3.8,15.9C3.7,14.8 3.7,10.4 3.8,9.1Z" fill="#27a838"/></g>
<g transform="translate(41.0,80.4) scale(0.855,0.950)"><path d="M-2.8,37.2 L-1.3,38.3 L-0.4,36.8 L0.5,38.5 L1.5,37.2 L3,38 L2.3,40 L-2.3,40Z" fill="#1c6b33"/><path d="M0.3,25.5 L0.2,38.6 M0.3,29.6 L-3.2,26.4 M0.3,29.6 L3,26.8" stroke="#a8381a" stroke-width="1.5" fill="none"/><g transform="scale(1,0.93)"><path d="M-0.5,0 C1.2,0.4 2.4,4 3,7.5 C3.8,11 5.6,14.5 6.6,18 C7.6,21 8,23.5 7.6,25.5 C7,28.2 4.8,28.2 4.2,26 C3.8,28.6 1.4,28.8 1,26.6 C0.2,29 -2.8,28.8 -3.2,26.4 C-4,28.6 -6.8,28 -7.4,25.2 C-8,22 -7,19 -6,16 C-5,12.5 -4,10 -3.4,7 C-2.8,3.5 -2,0.5 -0.5,0Z" fill="#0f5a2e" transform="translate(0.3,1.7)"/><path d="M-0.5,0 C1.2,0.4 2.4,4 3,7.5 C3.8,11 5.6,14.5 6.6,18 C7.6,21 8,23.5 7.6,25.5 C7,28.2 4.8,28.2 4.2,26 C3.8,28.6 1.4,28.8 1,26.6 C0.2,29 -2.8,28.8 -3.2,26.4 C-4,28.6 -6.8,28 -7.4,25.2 C-8,22 -7,19 -6,16 C-5,12.5 -4,10 -3.4,7 C-2.8,3.5 -2,0.5 -0.5,0Z" fill="#1d9039"/><path d="M-0.5,0 C1.2,0.4 2.4,4 3,7.5 C3.4,9 4,10.2 4.6,11.4 C2,15.5 -2.5,20 -7.6,23.2 C-7.6,20.8 -6.8,18.4 -6,16 C-5,12.5 -4,10 -3.4,7 C-2.8,3.5 -2,0.5 -0.5,0Z" fill="#27a838"/></g></g>
<g transform="translate(247.7,83.0) scale(0.900,1.000)"><path d="M-2.8,37.2 L-1.3,38.3 L-0.4,36.8 L0.5,38.5 L1.5,37.2 L3,38 L2.3,40 L-2.3,40Z" fill="#1c6b33"/><path d="M0.3,25.5 L0.2,38.6 M0.3,29.6 L-3.2,26.4 M0.3,29.6 L3,26.8" stroke="#a8381a" stroke-width="1.5" fill="none"/><g transform="scale(1,0.93)"><path d="M-0.5,0 C1.2,0.4 2.4,4 3,7.5 C3.8,11 5.6,14.5 6.6,18 C7.6,21 8,23.5 7.6,25.5 C7,28.2 4.8,28.2 4.2,26 C3.8,28.6 1.4,28.8 1,26.6 C0.2,29 -2.8,28.8 -3.2,26.4 C-4,28.6 -6.8,28 -7.4,25.2 C-8,22 -7,19 -6,16 C-5,12.5 -4,10 -3.4,7 C-2.8,3.5 -2,0.5 -0.5,0Z" fill="#0f5a2e" transform="translate(0.3,1.7)"/><path d="M-0.5,0 C1.2,0.4 2.4,4 3,7.5 C3.8,11 5.6,14.5 6.6,18 C7.6,21 8,23.5 7.6,25.5 C7,28.2 4.8,28.2 4.2,26 C3.8,28.6 1.4,28.8 1,26.6 C0.2,29 -2.8,28.8 -3.2,26.4 C-4,28.6 -6.8,28 -7.4,25.2 C-8,22 -7,19 -6,16 C-5,12.5 -4,10 -3.4,7 C-2.8,3.5 -2,0.5 -0.5,0Z" fill="#1d9039"/><path d="M-0.5,0 C1.2,0.4 2.4,4 3,7.5 C3.4,9 4,10.2 4.6,11.4 C2,15.5 -2.5,20 -7.6,23.2 C-7.6,20.8 -6.8,18.4 -6,16 C-5,12.5 -4,10 -3.4,7 C-2.8,3.5 -2,0.5 -0.5,0Z" fill="#27a838"/></g></g>
<g transform="translate(170.9,86.0) scale(0.900,1.000)"><path d="M-2.8,37.2 L-1.3,38.3 L-0.4,36.8 L0.5,38.5 L1.5,37.2 L3,38 L2.3,40 L-2.3,40Z" fill="#1c6b33"/><path d="M0.3,25.5 L0.2,38.6 M0.3,29.6 L-3.2,26.4 M0.3,29.6 L3,26.8" stroke="#a8381a" stroke-width="1.5" fill="none"/><g transform="scale(1,0.93)"><path d="M-0.5,0 C1.2,0.4 2.4,4 3,7.5 C3.8,11 5.6,14.5 6.6,18 C7.6,21 8,23.5 7.6,25.5 C7,28.2 4.8,28.2 4.2,26 C3.8,28.6 1.4,28.8 1,26.6 C0.2,29 -2.8,28.8 -3.2,26.4 C-4,28.6 -6.8,28 -7.4,25.2 C-8,22 -7,19 -6,16 C-5,12.5 -4,10 -3.4,7 C-2.8,3.5 -2,0.5 -0.5,0Z" fill="#0f5a2e" transform="translate(0.3,1.7)"/><path d="M-0.5,0 C1.2,0.4 2.4,4 3,7.5 C3.8,11 5.6,14.5 6.6,18 C7.6,21 8,23.5 7.6,25.5 C7,28.2 4.8,28.2 4.2,26 C3.8,28.6 1.4,28.8 1,26.6 C0.2,29 -2.8,28.8 -3.2,26.4 C-4,28.6 -6.8,28 -7.4,25.2 C-8,22 -7,19 -6,16 C-5,12.5 -4,10 -3.4,7 C-2.8,3.5 -2,0.5 -0.5,0Z" fill="#1d9039"/><path d="M-0.5,0 C1.2,0.4 2.4,4 3,7.5 C3.4,9 4,10.2 4.6,11.4 C2,15.5 -2.5,20 -7.6,23.2 C-7.6,20.8 -6.8,18.4 -6,16 C-5,12.5 -4,10 -3.4,7 C-2.8,3.5 -2,0.5 -0.5,0Z" fill="#27a838"/></g></g>
<g transform="translate(149.5,91.0) scale(0.900,1.000)"><path d="M-2.8,37.2 L-1.3,38.3 L-0.4,36.8 L0.5,38.5 L1.5,37.2 L3,38 L2.3,40 L-2.3,40Z" fill="#1c6b33"/><path d="M0.3,25.5 L0.2,38.6 M0.3,29.6 L-3.2,26.4 M0.3,29.6 L3,26.8" stroke="#a8381a" stroke-width="1.5" fill="none"/><g transform="scale(1,0.93)"><path d="M-0.5,0 C1.2,0.4 2.4,4 3,7.5 C3.8,11 5.6,14.5 6.6,18 C7.6,21 8,23.5 7.6,25.5 C7,28.2 4.8,28.2 4.2,26 C3.8,28.6 1.4,28.8 1,26.6 C0.2,29 -2.8,28.8 -3.2,26.4 C-4,28.6 -6.8,28 -7.4,25.2 C-8,22 -7,19 -6,16 C-5,12.5 -4,10 -3.4,7 C-2.8,3.5 -2,0.5 -0.5,0Z" fill="#0f5a2e" transform="translate(0.3,1.7)"/><path d="M-0.5,0 C1.2,0.4 2.4,4 3,7.5 C3.8,11 5.6,14.5 6.6,18 C7.6,21 8,23.5 7.6,25.5 C7,28.2 4.8,28.2 4.2,26 C3.8,28.6 1.4,28.8 1,26.6 C0.2,29 -2.8,28.8 -3.2,26.4 C-4,28.6 -6.8,28 -7.4,25.2 C-8,22 -7,19 -6,16 C-5,12.5 -4,10 -3.4,7 C-2.8,3.5 -2,0.5 -0.5,0Z" fill="#1d9039"/><path d="M-0.5,0 C1.2,0.4 2.4,4 3,7.5 C3.4,9 4,10.2 4.6,11.4 C2,15.5 -2.5,20 -7.6,23.2 C-7.6,20.8 -6.8,18.4 -6,16 C-5,12.5 -4,10 -3.4,7 C-2.8,3.5 -2,0.5 -0.5,0Z" fill="#27a838"/></g></g>
<g transform="translate(73.4,93.5) scale(0.900,1.000)"><path d="M-2.8,37.2 L-1.3,38.3 L-0.4,36.8 L0.5,38.5 L1.5,37.2 L3,38 L2.3,40 L-2.3,40Z" fill="#1c6b33"/><path d="M0.3,25.5 L0.2,38.6 M0.3,29.6 L-3.2,26.4 M0.3,29.6 L3,26.8" stroke="#a8381a" stroke-width="1.5" fill="none"/><g transform="scale(1,0.93)"><path d="M-0.5,0 C1.2,0.4 2.4,4 3,7.5 C3.8,11 5.6,14.5 6.6,18 C7.6,21 8,23.5 7.6,25.5 C7,28.2 4.8,28.2 4.2,26 C3.8,28.6 1.4,28.8 1,26.6 C0.2,29 -2.8,28.8 -3.2,26.4 C-4,28.6 -6.8,28 -7.4,25.2 C-8,22 -7,19 -6,16 C-5,12.5 -4,10 -3.4,7 C-2.8,3.5 -2,0.5 -0.5,0Z" fill="#0f5a2e" transform="translate(0.3,1.7)"/><path d="M-0.5,0 C1.2,0.4 2.4,4 3,7.5 C3.8,11 5.6,14.5 6.6,18 C7.6,21 8,23.5 7.6,25.5 C7,28.2 4.8,28.2 4.2,26 C3.8,28.6 1.4,28.8 1,26.6 C0.2,29 -2.8,28.8 -3.2,26.4 C-4,28.6 -6.8,28 -7.4,25.2 C-8,22 -7,19 -6,16 C-5,12.5 -4,10 -3.4,7 C-2.8,3.5 -2,0.5 -0.5,0Z" fill="#1d9039"/><path d="M-0.5,0 C1.2,0.4 2.4,4 3,7.5 C3.4,9 4,10.2 4.6,11.4 C2,15.5 -2.5,20 -7.6,23.2 C-7.6,20.8 -6.8,18.4 -6,16 C-5,12.5 -4,10 -3.4,7 C-2.8,3.5 -2,0.5 -0.5,0Z" fill="#27a838"/></g></g>
<g transform="translate(201.8,101.8) scale(0.900,1.000)"><path d="M-2.8,37.2 L-1.3,38.3 L-0.4,36.8 L0.5,38.5 L1.5,37.2 L3,38 L2.3,40 L-2.3,40Z" fill="#1c6b33"/><path d="M0.3,25.5 L0.2,38.6 M0.3,29.6 L-3.2,26.4 M0.3,29.6 L3,26.8" stroke="#a8381a" stroke-width="1.5" fill="none"/><g transform="scale(1,0.93)"><path d="M-0.5,0 C1.2,0.4 2.4,4 3,7.5 C3.8,11 5.6,14.5 6.6,18 C7.6,21 8,23.5 7.6,25.5 C7,28.2 4.8,28.2 4.2,26 C3.8,28.6 1.4,28.8 1,26.6 C0.2,29 -2.8,28.8 -3.2,26.4 C-4,28.6 -6.8,28 -7.4,25.2 C-8,22 -7,19 -6,16 C-5,12.5 -4,10 -3.4,7 C-2.8,3.5 -2,0.5 -0.5,0Z" fill="#0f5a2e" transform="translate(0.3,1.7)"/><path d="M-0.5,0 C1.2,0.4 2.4,4 3,7.5 C3.8,11 5.6,14.5 6.6,18 C7.6,21 8,23.5 7.6,25.5 C7,28.2 4.8,28.2 4.2,26 C3.8,28.6 1.4,28.8 1,26.6 C0.2,29 -2.8,28.8 -3.2,26.4 C-4,28.6 -6.8,28 -7.4,25.2 C-8,22 -7,19 -6,16 C-5,12.5 -4,10 -3.4,7 C-2.8,3.5 -2,0.5 -0.5,0Z" fill="#1d9039"/><path d="M-0.5,0 C1.2,0.4 2.4,4 3,7.5 C3.4,9 4,10.2 4.6,11.4 C2,15.5 -2.5,20 -7.6,23.2 C-7.6,20.8 -6.8,18.4 -6,16 C-5,12.5 -4,10 -3.4,7 C-2.8,3.5 -2,0.5 -0.5,0Z" fill="#27a838"/></g></g>
<g transform="translate(104.3,110.6) scale(0.864,0.960)"><path d="M-2.8,37.2 L-1.3,38.3 L-0.4,36.8 L0.5,38.5 L1.5,37.2 L3,38 L2.3,40 L-2.3,40Z" fill="#1c6b33"/><path d="M0.3,25.5 L0.2,38.6 M0.3,29.6 L-3.2,26.4 M0.3,29.6 L3,26.8" stroke="#a8381a" stroke-width="1.5" fill="none"/><g transform="scale(1,0.93)"><path d="M-0.5,0 C1.2,0.4 2.4,4 3,7.5 C3.8,11 5.6,14.5 6.6,18 C7.6,21 8,23.5 7.6,25.5 C7,28.2 4.8,28.2 4.2,26 C3.8,28.6 1.4,28.8 1,26.6 C0.2,29 -2.8,28.8 -3.2,26.4 C-4,28.6 -6.8,28 -7.4,25.2 C-8,22 -7,19 -6,16 C-5,12.5 -4,10 -3.4,7 C-2.8,3.5 -2,0.5 -0.5,0Z" fill="#0f5a2e" transform="translate(0.3,1.7)"/><path d="M-0.5,0 C1.2,0.4 2.4,4 3,7.5 C3.8,11 5.6,14.5 6.6,18 C7.6,21 8,23.5 7.6,25.5 C7,28.2 4.8,28.2 4.2,26 C3.8,28.6 1.4,28.8 1,26.6 C0.2,29 -2.8,28.8 -3.2,26.4 C-4,28.6 -6.8,28 -7.4,25.2 C-8,22 -7,19 -6,16 C-5,12.5 -4,10 -3.4,7 C-2.8,3.5 -2,0.5 -0.5,0Z" fill="#1d9039"/><path d="M-0.5,0 C1.2,0.4 2.4,4 3,7.5 C3.4,9 4,10.2 4.6,11.4 C2,15.5 -2.5,20 -7.6,23.2 C-7.6,20.8 -6.8,18.4 -6,16 C-5,12.5 -4,10 -3.4,7 C-2.8,3.5 -2,0.5 -0.5,0Z" fill="#27a838"/></g></g>
<g transform="translate(5.0,107.5) scale(1.130,1.100)"><path d="M0.0,18.4C-1.1,20.2 0.3,25.0 0.8,26.8C1.3,28.6 3.1,31.6 4.2,32.8C5.3,34.0 7.9,35.5 9.3,36.1C10.7,36.7 13.6,37.4 15.2,37.4C16.8,37.4 20.4,35.9 21.9,36.1C23.4,36.3 25.5,38.5 27.0,38.7C28.5,38.9 32.5,38.3 33.8,37.8C35.1,37.3 36.1,35.2 37.1,34.4C38.1,33.6 40.6,32.4 41.4,31.1C42.2,29.8 43.2,26.1 43.5,24.3C43.8,22.5 45.6,18.5 43.9,17.0C42.2,15.5 34.2,12.6 30.0,12.0C25.8,11.4 13.8,11.2 10.0,12.0C6.2,12.8 1.1,16.5 0.0,18.4Z" fill="#0f5e30"/><path d="M0.0,11.7C-0.9,13.0 1.1,17.9 1.7,19.3C2.3,20.7 3.9,23.4 5.1,24.3C6.3,25.2 11.4,27.4 12.7,27.7C14.0,28.0 16.0,26.6 16.9,26.8C17.8,27.0 20.3,28.9 21.1,29.4C21.9,29.9 23.7,31.6 24.5,31.5C25.3,31.4 27.9,29.3 28.7,28.5C29.5,27.7 31.5,25.1 32.1,24.3C32.7,23.5 33.2,21.4 33.8,20.9C34.4,20.4 36.2,20.1 37.1,20.1C38.0,20.1 41.3,21.4 42.2,20.9C43.1,20.4 45.5,16.9 45.6,15.9C45.7,14.9 45.2,12.4 43.5,11.5C41.8,10.6 33.7,8.4 30.0,8.0C26.3,7.6 13.3,7.6 10.0,8.0C6.7,8.4 0.9,10.4 0.0,11.7Z" fill="#1b8a3a"/><path d="M3.8,9.1C3.9,7.8 4.4,5.0 5.1,4.1C5.8,3.2 8.8,1.5 10.1,1.1C11.4,0.7 15.7,0.5 16.9,0.5C18.1,0.5 20.2,1.5 21.1,1.5C22.0,1.5 24.2,0.5 25.3,0.5C26.4,0.5 30.2,0.7 31.2,1.1C32.2,1.5 33.9,3.3 34.6,4.1C35.3,4.9 36.1,7.5 37.1,8.3C38.1,9.1 43.0,10.9 43.5,11.7C44.0,12.5 42.1,15.5 41.4,15.9C40.7,16.3 37.9,15.5 37.1,15.5C36.3,15.5 34.7,16.3 33.8,16.3C32.9,16.3 29.9,15.6 28.7,15.5C27.5,15.4 23.6,15.4 22.8,15.5C22.0,15.6 21.8,16.3 21.1,16.7C20.4,17.1 17.6,19.1 16.9,19.3C16.2,19.5 15.9,18.5 15.2,18.4C14.5,18.3 12.1,18.7 11.0,18.8C9.9,18.9 5.9,19.6 5.1,19.3C4.3,19.0 3.9,17.0 3.8,15.9C3.7,14.8 3.7,10.4 3.8,9.1Z" fill="#27a838"/></g>
<g transform="translate(240.0,129.0) scale(1.120,1.100)"><path d="M0.0,18.4C-1.1,20.2 0.3,25.0 0.8,26.8C1.3,28.6 3.1,31.6 4.2,32.8C5.3,34.0 7.9,35.5 9.3,36.1C10.7,36.7 13.6,37.4 15.2,37.4C16.8,37.4 20.4,35.9 21.9,36.1C23.4,36.3 25.5,38.5 27.0,38.7C28.5,38.9 32.5,38.3 33.8,37.8C35.1,37.3 36.1,35.2 37.1,34.4C38.1,33.6 40.6,32.4 41.4,31.1C42.2,29.8 43.2,26.1 43.5,24.3C43.8,22.5 45.6,18.5 43.9,17.0C42.2,15.5 34.2,12.6 30.0,12.0C25.8,11.4 13.8,11.2 10.0,12.0C6.2,12.8 1.1,16.5 0.0,18.4Z" fill="#0f5e30"/><path d="M0.0,11.7C-0.9,13.0 1.1,17.9 1.7,19.3C2.3,20.7 3.9,23.4 5.1,24.3C6.3,25.2 11.4,27.4 12.7,27.7C14.0,28.0 16.0,26.6 16.9,26.8C17.8,27.0 20.3,28.9 21.1,29.4C21.9,29.9 23.7,31.6 24.5,31.5C25.3,31.4 27.9,29.3 28.7,28.5C29.5,27.7 31.5,25.1 32.1,24.3C32.7,23.5 33.2,21.4 33.8,20.9C34.4,20.4 36.2,20.1 37.1,20.1C38.0,20.1 41.3,21.4 42.2,20.9C43.1,20.4 45.5,16.9 45.6,15.9C45.7,14.9 45.2,12.4 43.5,11.5C41.8,10.6 33.7,8.4 30.0,8.0C26.3,7.6 13.3,7.6 10.0,8.0C6.7,8.4 0.9,10.4 0.0,11.7Z" fill="#1b8a3a"/><path d="M3.8,9.1C3.9,7.8 4.4,5.0 5.1,4.1C5.8,3.2 8.8,1.5 10.1,1.1C11.4,0.7 15.7,0.5 16.9,0.5C18.1,0.5 20.2,1.5 21.1,1.5C22.0,1.5 24.2,0.5 25.3,0.5C26.4,0.5 30.2,0.7 31.2,1.1C32.2,1.5 33.9,3.3 34.6,4.1C35.3,4.9 36.1,7.5 37.1,8.3C38.1,9.1 43.0,10.9 43.5,11.7C44.0,12.5 42.1,15.5 41.4,15.9C40.7,16.3 37.9,15.5 37.1,15.5C36.3,15.5 34.7,16.3 33.8,16.3C32.9,16.3 29.9,15.6 28.7,15.5C27.5,15.4 23.6,15.4 22.8,15.5C22.0,15.6 21.8,16.3 21.1,16.7C20.4,17.1 17.6,19.1 16.9,19.3C16.2,19.5 15.9,18.5 15.2,18.4C14.5,18.3 12.1,18.7 11.0,18.8C9.9,18.9 5.9,19.6 5.1,19.3C4.3,19.0 3.9,17.0 3.8,15.9C3.7,14.8 3.7,10.4 3.8,9.1Z" fill="#27a838"/></g>
<g transform="translate(714.3,285.5) scale(0.900,1.000)"><path d="M-2.8,37.2 L-1.3,38.3 L-0.4,36.8 L0.5,38.5 L1.5,37.2 L3,38 L2.3,40 L-2.3,40Z" fill="#1c6b33"/><path d="M0.3,25.5 L0.2,38.6 M0.3,29.6 L-3.2,26.4 M0.3,29.6 L3,26.8" stroke="#a8381a" stroke-width="1.5" fill="none"/><g transform="scale(1,0.93)"><path d="M-0.5,0 C1.2,0.4 2.4,4 3,7.5 C3.8,11 5.6,14.5 6.6,18 C7.6,21 8,23.5 7.6,25.5 C7,28.2 4.8,28.2 4.2,26 C3.8,28.6 1.4,28.8 1,26.6 C0.2,29 -2.8,28.8 -3.2,26.4 C-4,28.6 -6.8,28 -7.4,25.2 C-8,22 -7,19 -6,16 C-5,12.5 -4,10 -3.4,7 C-2.8,3.5 -2,0.5 -0.5,0Z" fill="#0f5a2e" transform="translate(0.3,1.7)"/><path d="M-0.5,0 C1.2,0.4 2.4,4 3,7.5 C3.8,11 5.6,14.5 6.6,18 C7.6,21 8,23.5 7.6,25.5 C7,28.2 4.8,28.2 4.2,26 C3.8,28.6 1.4,28.8 1,26.6 C0.2,29 -2.8,28.8 -3.2,26.4 C-4,28.6 -6.8,28 -7.4,25.2 C-8,22 -7,19 -6,16 C-5,12.5 -4,10 -3.4,7 C-2.8,3.5 -2,0.5 -0.5,0Z" fill="#1d9039"/><path d="M-0.5,0 C1.2,0.4 2.4,4 3,7.5 C3.4,9 4,10.2 4.6,11.4 C2,15.5 -2.5,20 -7.6,23.2 C-7.6,20.8 -6.8,18.4 -6,16 C-5,12.5 -4,10 -3.4,7 C-2.8,3.5 -2,0.5 -0.5,0Z" fill="#27a838"/></g></g>
<g transform="translate(768.3,292.6) scale(0.900,1.000)"><path d="M-2.8,37.2 L-1.3,38.3 L-0.4,36.8 L0.5,38.5 L1.5,37.2 L3,38 L2.3,40 L-2.3,40Z" fill="#1c6b33"/><path d="M0.3,25.5 L0.2,38.6 M0.3,29.6 L-3.2,26.4 M0.3,29.6 L3,26.8" stroke="#a8381a" stroke-width="1.5" fill="none"/><g transform="scale(1,0.93)"><path d="M-0.5,0 C1.2,0.4 2.4,4 3,7.5 C3.8,11 5.6,14.5 6.6,18 C7.6,21 8,23.5 7.6,25.5 C7,28.2 4.8,28.2 4.2,26 C3.8,28.6 1.4,28.8 1,26.6 C0.2,29 -2.8,28.8 -3.2,26.4 C-4,28.6 -6.8,28 -7.4,25.2 C-8,22 -7,19 -6,16 C-5,12.5 -4,10 -3.4,7 C-2.8,3.5 -2,0.5 -0.5,0Z" fill="#0f5a2e" transform="translate(0.3,1.7)"/><path d="M-0.5,0 C1.2,0.4 2.4,4 3,7.5 C3.8,11 5.6,14.5 6.6,18 C7.6,21 8,23.5 7.6,25.5 C7,28.2 4.8,28.2 4.2,26 C3.8,28.6 1.4,28.8 1,26.6 C0.2,29 -2.8,28.8 -3.2,26.4 C-4,28.6 -6.8,28 -7.4,25.2 C-8,22 -7,19 -6,16 C-5,12.5 -4,10 -3.4,7 C-2.8,3.5 -2,0.5 -0.5,0Z" fill="#1d9039"/><path d="M-0.5,0 C1.2,0.4 2.4,4 3,7.5 C3.4,9 4,10.2 4.6,11.4 C2,15.5 -2.5,20 -7.6,23.2 C-7.6,20.8 -6.8,18.4 -6,16 C-5,12.5 -4,10 -3.4,7 C-2.8,3.5 -2,0.5 -0.5,0Z" fill="#27a838"/></g></g>
<g transform="translate(858.8,316.0) scale(0.900,1.000)"><path d="M-2.8,37.2 L-1.3,38.3 L-0.4,36.8 L0.5,38.5 L1.5,37.2 L3,38 L2.3,40 L-2.3,40Z" fill="#1c6b33"/><path d="M0.3,25.5 L0.2,38.6 M0.3,29.6 L-3.2,26.4 M0.3,29.6 L3,26.8" stroke="#a8381a" stroke-width="1.5" fill="none"/><g transform="scale(1,0.93)"><path d="M-0.5,0 C1.2,0.4 2.4,4 3,7.5 C3.8,11 5.6,14.5 6.6,18 C7.6,21 8,23.5 7.6,25.5 C7,28.2 4.8,28.2 4.2,26 C3.8,28.6 1.4,28.8 1,26.6 C0.2,29 -2.8,28.8 -3.2,26.4 C-4,28.6 -6.8,28 -7.4,25.2 C-8,22 -7,19 -6,16 C-5,12.5 -4,10 -3.4,7 C-2.8,3.5 -2,0.5 -0.5,0Z" fill="#0f5a2e" transform="translate(0.3,1.7)"/><path d="M-0.5,0 C1.2,0.4 2.4,4 3,7.5 C3.8,11 5.6,14.5 6.6,18 C7.6,21 8,23.5 7.6,25.5 C7,28.2 4.8,28.2 4.2,26 C3.8,28.6 1.4,28.8 1,26.6 C0.2,29 -2.8,28.8 -3.2,26.4 C-4,28.6 -6.8,28 -7.4,25.2 C-8,22 -7,19 -6,16 C-5,12.5 -4,10 -3.4,7 C-2.8,3.5 -2,0.5 -0.5,0Z" fill="#1d9039"/><path d="M-0.5,0 C1.2,0.4 2.4,4 3,7.5 C3.4,9 4,10.2 4.6,11.4 C2,15.5 -2.5,20 -7.6,23.2 C-7.6,20.8 -6.8,18.4 -6,16 C-5,12.5 -4,10 -3.4,7 C-2.8,3.5 -2,0.5 -0.5,0Z" fill="#27a838"/></g></g>
<g transform="translate(865.0,319.0) scale(0.900,1.000)"><path d="M-2.8,37.2 L-1.3,38.3 L-0.4,36.8 L0.5,38.5 L1.5,37.2 L3,38 L2.3,40 L-2.3,40Z" fill="#1c6b33"/><path d="M0.3,25.5 L0.2,38.6 M0.3,29.6 L-3.2,26.4 M0.3,29.6 L3,26.8" stroke="#a8381a" stroke-width="1.5" fill="none"/><g transform="scale(1,0.93)"><path d="M-0.5,0 C1.2,0.4 2.4,4 3,7.5 C3.8,11 5.6,14.5 6.6,18 C7.6,21 8,23.5 7.6,25.5 C7,28.2 4.8,28.2 4.2,26 C3.8,28.6 1.4,28.8 1,26.6 C0.2,29 -2.8,28.8 -3.2,26.4 C-4,28.6 -6.8,28 -7.4,25.2 C-8,22 -7,19 -6,16 C-5,12.5 -4,10 -3.4,7 C-2.8,3.5 -2,0.5 -0.5,0Z" fill="#0f5a2e" transform="translate(0.3,1.7)"/><path d="M-0.5,0 C1.2,0.4 2.4,4 3,7.5 C3.8,11 5.6,14.5 6.6,18 C7.6,21 8,23.5 7.6,25.5 C7,28.2 4.8,28.2 4.2,26 C3.8,28.6 1.4,28.8 1,26.6 C0.2,29 -2.8,28.8 -3.2,26.4 C-4,28.6 -6.8,28 -7.4,25.2 C-8,22 -7,19 -6,16 C-5,12.5 -4,10 -3.4,7 C-2.8,3.5 -2,0.5 -0.5,0Z" fill="#1d9039"/><path d="M-0.5,0 C1.2,0.4 2.4,4 3,7.5 C3.4,9 4,10.2 4.6,11.4 C2,15.5 -2.5,20 -7.6,23.2 C-7.6,20.8 -6.8,18.4 -6,16 C-5,12.5 -4,10 -3.4,7 C-2.8,3.5 -2,0.5 -0.5,0Z" fill="#27a838"/></g></g>
<g transform="translate(732.4,321.5) scale(0.900,1.000)"><path d="M-2.8,37.2 L-1.3,38.3 L-0.4,36.8 L0.5,38.5 L1.5,37.2 L3,38 L2.3,40 L-2.3,40Z" fill="#1c6b33"/><path d="M0.3,25.5 L0.2,38.6 M0.3,29.6 L-3.2,26.4 M0.3,29.6 L3,26.8" stroke="#a8381a" stroke-width="1.5" fill="none"/><g transform="scale(1,0.93)"><path d="M-0.5,0 C1.2,0.4 2.4,4 3,7.5 C3.8,11 5.6,14.5 6.6,18 C7.6,21 8,23.5 7.6,25.5 C7,28.2 4.8,28.2 4.2,26 C3.8,28.6 1.4,28.8 1,26.6 C0.2,29 -2.8,28.8 -3.2,26.4 C-4,28.6 -6.8,28 -7.4,25.2 C-8,22 -7,19 -6,16 C-5,12.5 -4,10 -3.4,7 C-2.8,3.5 -2,0.5 -0.5,0Z" fill="#0f5a2e" transform="translate(0.3,1.7)"/><path d="M-0.5,0 C1.2,0.4 2.4,4 3,7.5 C3.8,11 5.6,14.5 6.6,18 C7.6,21 8,23.5 7.6,25.5 C7,28.2 4.8,28.2 4.2,26 C3.8,28.6 1.4,28.8 1,26.6 C0.2,29 -2.8,28.8 -3.2,26.4 C-4,28.6 -6.8,28 -7.4,25.2 C-8,22 -7,19 -6,16 C-5,12.5 -4,10 -3.4,7 C-2.8,3.5 -2,0.5 -0.5,0Z" fill="#1d9039"/><path d="M-0.5,0 C1.2,0.4 2.4,4 3,7.5 C3.4,9 4,10.2 4.6,11.4 C2,15.5 -2.5,20 -7.6,23.2 C-7.6,20.8 -6.8,18.4 -6,16 C-5,12.5 -4,10 -3.4,7 C-2.8,3.5 -2,0.5 -0.5,0Z" fill="#27a838"/></g></g>
<g transform="translate(840.0,331.5) scale(0.900,1.000)"><path d="M-2.8,37.2 L-1.3,38.3 L-0.4,36.8 L0.5,38.5 L1.5,37.2 L3,38 L2.3,40 L-2.3,40Z" fill="#1c6b33"/><path d="M0.3,25.5 L0.2,38.6 M0.3,29.6 L-3.2,26.4 M0.3,29.6 L3,26.8" stroke="#a8381a" stroke-width="1.5" fill="none"/><g transform="scale(1,0.93)"><path d="M-0.5,0 C1.2,0.4 2.4,4 3,7.5 C3.8,11 5.6,14.5 6.6,18 C7.6,21 8,23.5 7.6,25.5 C7,28.2 4.8,28.2 4.2,26 C3.8,28.6 1.4,28.8 1,26.6 C0.2,29 -2.8,28.8 -3.2,26.4 C-4,28.6 -6.8,28 -7.4,25.2 C-8,22 -7,19 -6,16 C-5,12.5 -4,10 -3.4,7 C-2.8,3.5 -2,0.5 -0.5,0Z" fill="#0f5a2e" transform="translate(0.3,1.7)"/><path d="M-0.5,0 C1.2,0.4 2.4,4 3,7.5 C3.8,11 5.6,14.5 6.6,18 C7.6,21 8,23.5 7.6,25.5 C7,28.2 4.8,28.2 4.2,26 C3.8,28.6 1.4,28.8 1,26.6 C0.2,29 -2.8,28.8 -3.2,26.4 C-4,28.6 -6.8,28 -7.4,25.2 C-8,22 -7,19 -6,16 C-5,12.5 -4,10 -3.4,7 C-2.8,3.5 -2,0.5 -0.5,0Z" fill="#1d9039"/><path d="M-0.5,0 C1.2,0.4 2.4,4 3,7.5 C3.4,9 4,10.2 4.6,11.4 C2,15.5 -2.5,20 -7.6,23.2 C-7.6,20.8 -6.8,18.4 -6,16 C-5,12.5 -4,10 -3.4,7 C-2.8,3.5 -2,0.5 -0.5,0Z" fill="#27a838"/></g></g>
<g transform="translate(876.5,366.7) scale(0.900,1.000)"><path d="M-2.8,37.2 L-1.3,38.3 L-0.4,36.8 L0.5,38.5 L1.5,37.2 L3,38 L2.3,40 L-2.3,40Z" fill="#1c6b33"/><path d="M0.3,25.5 L0.2,38.6 M0.3,29.6 L-3.2,26.4 M0.3,29.6 L3,26.8" stroke="#a8381a" stroke-width="1.5" fill="none"/><g transform="scale(1,0.93)"><path d="M-0.5,0 C1.2,0.4 2.4,4 3,7.5 C3.8,11 5.6,14.5 6.6,18 C7.6,21 8,23.5 7.6,25.5 C7,28.2 4.8,28.2 4.2,26 C3.8,28.6 1.4,28.8 1,26.6 C0.2,29 -2.8,28.8 -3.2,26.4 C-4,28.6 -6.8,28 -7.4,25.2 C-8,22 -7,19 -6,16 C-5,12.5 -4,10 -3.4,7 C-2.8,3.5 -2,0.5 -0.5,0Z" fill="#0f5a2e" transform="translate(0.3,1.7)"/><path d="M-0.5,0 C1.2,0.4 2.4,4 3,7.5 C3.8,11 5.6,14.5 6.6,18 C7.6,21 8,23.5 7.6,25.5 C7,28.2 4.8,28.2 4.2,26 C3.8,28.6 1.4,28.8 1,26.6 C0.2,29 -2.8,28.8 -3.2,26.4 C-4,28.6 -6.8,28 -7.4,25.2 C-8,22 -7,19 -6,16 C-5,12.5 -4,10 -3.4,7 C-2.8,3.5 -2,0.5 -0.5,0Z" fill="#1d9039"/><path d="M-0.5,0 C1.2,0.4 2.4,4 3,7.5 C3.4,9 4,10.2 4.6,11.4 C2,15.5 -2.5,20 -7.6,23.2 C-7.6,20.8 -6.8,18.4 -6,16 C-5,12.5 -4,10 -3.4,7 C-2.8,3.5 -2,0.5 -0.5,0Z" fill="#27a838"/></g></g>
<g transform="translate(839.3,376.8) scale(1.050,1.270)"><path d="M-2.8,37.2 L-1.3,38.3 L-0.4,36.8 L0.5,38.5 L1.5,37.2 L3,38 L2.3,40 L-2.3,40Z" fill="#1c6b33"/><path d="M0.3,25.5 L0.2,38.6 M0.3,29.6 L-3.2,26.4 M0.3,29.6 L3,26.8" stroke="#a8381a" stroke-width="1.5" fill="none"/><g transform="scale(1,0.93)"><path d="M-0.5,0 C1.2,0.4 2.4,4 3,7.5 C3.8,11 5.6,14.5 6.6,18 C7.6,21 8,23.5 7.6,25.5 C7,28.2 4.8,28.2 4.2,26 C3.8,28.6 1.4,28.8 1,26.6 C0.2,29 -2.8,28.8 -3.2,26.4 C-4,28.6 -6.8,28 -7.4,25.2 C-8,22 -7,19 -6,16 C-5,12.5 -4,10 -3.4,7 C-2.8,3.5 -2,0.5 -0.5,0Z" fill="#0f5a2e" transform="translate(0.3,1.7)"/><path d="M-0.5,0 C1.2,0.4 2.4,4 3,7.5 C3.8,11 5.6,14.5 6.6,18 C7.6,21 8,23.5 7.6,25.5 C7,28.2 4.8,28.2 4.2,26 C3.8,28.6 1.4,28.8 1,26.6 C0.2,29 -2.8,28.8 -3.2,26.4 C-4,28.6 -6.8,28 -7.4,25.2 C-8,22 -7,19 -6,16 C-5,12.5 -4,10 -3.4,7 C-2.8,3.5 -2,0.5 -0.5,0Z" fill="#1d9039"/><path d="M-0.5,0 C1.2,0.4 2.4,4 3,7.5 C3.4,9 4,10.2 4.6,11.4 C2,15.5 -2.5,20 -7.6,23.2 C-7.6,20.8 -6.8,18.4 -6,16 C-5,12.5 -4,10 -3.4,7 C-2.8,3.5 -2,0.5 -0.5,0Z" fill="#27a838"/></g></g>
<g transform="translate(817.4,413.0) scale(0.918,1.020)"><path d="M-2.8,37.2 L-1.3,38.3 L-0.4,36.8 L0.5,38.5 L1.5,37.2 L3,38 L2.3,40 L-2.3,40Z" fill="#1c6b33"/><path d="M0.3,25.5 L0.2,38.6 M0.3,29.6 L-3.2,26.4 M0.3,29.6 L3,26.8" stroke="#a8381a" stroke-width="1.5" fill="none"/><g transform="scale(1,0.93)"><path d="M-0.5,0 C1.2,0.4 2.4,4 3,7.5 C3.8,11 5.6,14.5 6.6,18 C7.6,21 8,23.5 7.6,25.5 C7,28.2 4.8,28.2 4.2,26 C3.8,28.6 1.4,28.8 1,26.6 C0.2,29 -2.8,28.8 -3.2,26.4 C-4,28.6 -6.8,28 -7.4,25.2 C-8,22 -7,19 -6,16 C-5,12.5 -4,10 -3.4,7 C-2.8,3.5 -2,0.5 -0.5,0Z" fill="#0f5a2e" transform="translate(0.3,1.7)"/><path d="M-0.5,0 C1.2,0.4 2.4,4 3,7.5 C3.8,11 5.6,14.5 6.6,18 C7.6,21 8,23.5 7.6,25.5 C7,28.2 4.8,28.2 4.2,26 C3.8,28.6 1.4,28.8 1,26.6 C0.2,29 -2.8,28.8 -3.2,26.4 C-4,28.6 -6.8,28 -7.4,25.2 C-8,22 -7,19 -6,16 C-5,12.5 -4,10 -3.4,7 C-2.8,3.5 -2,0.5 -0.5,0Z" fill="#1d9039"/><path d="M-0.5,0 C1.2,0.4 2.4,4 3,7.5 C3.4,9 4,10.2 4.6,11.4 C2,15.5 -2.5,20 -7.6,23.2 C-7.6,20.8 -6.8,18.4 -6,16 C-5,12.5 -4,10 -3.4,7 C-2.8,3.5 -2,0.5 -0.5,0Z" fill="#27a838"/></g></g>
<g transform="translate(858.6,418.0) scale(0.900,1.000)"><path d="M-2.8,37.2 L-1.3,38.3 L-0.4,36.8 L0.5,38.5 L1.5,37.2 L3,38 L2.3,40 L-2.3,40Z" fill="#1c6b33"/><path d="M0.3,25.5 L0.2,38.6 M0.3,29.6 L-3.2,26.4 M0.3,29.6 L3,26.8" stroke="#a8381a" stroke-width="1.5" fill="none"/><g transform="scale(1,0.93)"><path d="M-0.5,0 C1.2,0.4 2.4,4 3,7.5 C3.8,11 5.6,14.5 6.6,18 C7.6,21 8,23.5 7.6,25.5 C7,28.2 4.8,28.2 4.2,26 C3.8,28.6 1.4,28.8 1,26.6 C0.2,29 -2.8,28.8 -3.2,26.4 C-4,28.6 -6.8,28 -7.4,25.2 C-8,22 -7,19 -6,16 C-5,12.5 -4,10 -3.4,7 C-2.8,3.5 -2,0.5 -0.5,0Z" fill="#0f5a2e" transform="translate(0.3,1.7)"/><path d="M-0.5,0 C1.2,0.4 2.4,4 3,7.5 C3.8,11 5.6,14.5 6.6,18 C7.6,21 8,23.5 7.6,25.5 C7,28.2 4.8,28.2 4.2,26 C3.8,28.6 1.4,28.8 1,26.6 C0.2,29 -2.8,28.8 -3.2,26.4 C-4,28.6 -6.8,28 -7.4,25.2 C-8,22 -7,19 -6,16 C-5,12.5 -4,10 -3.4,7 C-2.8,3.5 -2,0.5 -0.5,0Z" fill="#1d9039"/><path d="M-0.5,0 C1.2,0.4 2.4,4 3,7.5 C3.4,9 4,10.2 4.6,11.4 C2,15.5 -2.5,20 -7.6,23.2 C-7.6,20.8 -6.8,18.4 -6,16 C-5,12.5 -4,10 -3.4,7 C-2.8,3.5 -2,0.5 -0.5,0Z" fill="#27a838"/></g></g>
<g transform="translate(882.3,446.0) scale(0.900,1.000)"><path d="M-2.8,37.2 L-1.3,38.3 L-0.4,36.8 L0.5,38.5 L1.5,37.2 L3,38 L2.3,40 L-2.3,40Z" fill="#1c6b33"/><path d="M0.3,25.5 L0.2,38.6 M0.3,29.6 L-3.2,26.4 M0.3,29.6 L3,26.8" stroke="#a8381a" stroke-width="1.5" fill="none"/><g transform="scale(1,0.93)"><path d="M-0.5,0 C1.2,0.4 2.4,4 3,7.5 C3.8,11 5.6,14.5 6.6,18 C7.6,21 8,23.5 7.6,25.5 C7,28.2 4.8,28.2 4.2,26 C3.8,28.6 1.4,28.8 1,26.6 C0.2,29 -2.8,28.8 -3.2,26.4 C-4,28.6 -6.8,28 -7.4,25.2 C-8,22 -7,19 -6,16 C-5,12.5 -4,10 -3.4,7 C-2.8,3.5 -2,0.5 -0.5,0Z" fill="#0f5a2e" transform="translate(0.3,1.7)"/><path d="M-0.5,0 C1.2,0.4 2.4,4 3,7.5 C3.8,11 5.6,14.5 6.6,18 C7.6,21 8,23.5 7.6,25.5 C7,28.2 4.8,28.2 4.2,26 C3.8,28.6 1.4,28.8 1,26.6 C0.2,29 -2.8,28.8 -3.2,26.4 C-4,28.6 -6.8,28 -7.4,25.2 C-8,22 -7,19 -6,16 C-5,12.5 -4,10 -3.4,7 C-2.8,3.5 -2,0.5 -0.5,0Z" fill="#1d9039"/><path d="M-0.5,0 C1.2,0.4 2.4,4 3,7.5 C3.4,9 4,10.2 4.6,11.4 C2,15.5 -2.5,20 -7.6,23.2 C-7.6,20.8 -6.8,18.4 -6,16 C-5,12.5 -4,10 -3.4,7 C-2.8,3.5 -2,0.5 -0.5,0Z" fill="#27a838"/></g></g>
<polygon points="795.9,328.4 836.0,336.6 729.6,447.5 678.6,436.0" fill="#515151" />
<line x1="805.2" y1="346" x2="816.2" y2="335.8" stroke="#fff" stroke-width="1.5"/>
<line x1="785.5" y1="362.1" x2="797" y2="352.1" stroke="#fff" stroke-width="1.5"/>
<line x1="762.7" y1="383.7" x2="774.9" y2="372.7" stroke="#fff" stroke-width="1.5"/>
<line x1="740.2" y1="405.6" x2="752.8" y2="394.1" stroke="#fff" stroke-width="1.5"/>
<line x1="721.2" y1="423.9" x2="731.8" y2="414.4" stroke="#fff" stroke-width="1.5"/>
<line x1="704.2" y1="440.5" x2="714.2" y2="431.6" stroke="#fff" stroke-width="1.5"/>
<polygon points="806.5,396.0 812.5,390.4 818.3,395.5 818.3,407.9 806.5,407.9" fill="#c4813a" />
<polygon points="802.9,396.7 815.5,384.0 825.5,392.2 818.3,399.4 812.5,390.4 805.0,398.5" fill="#e8a93c" />
<rect x="802.9" y="407.5" width="15.4" height="4.2" fill="#c99b72" />
<polygon points="818.3,404.5 824.6,397.6 831.8,404.0 831.8,417.5 818.3,417.5" fill="#3a8ed2" />
<polygon points="831.8,404.0 837.2,400.0 837.2,413.0 831.8,417.5" fill="#2b78be" />
<polygon points="814.6,404.8 828.7,391.6 836.0,397.0 832.0,403.8 824.6,397.6 816.8,406.3" fill="#e8a93c" />
<polygon points="821.0,416.9 835.4,416.9 838.5,413.9 838.5,418.6 835.4,421.6 821.0,421.6" fill="#c99b72" />
<rect x="822.0" y="403.2" width="4.0" height="4.6" fill="none" stroke="#2b6fb5" stroke-width="0.7"/>
<path d="M824.0,403.2v4.6M822,405.5h4" stroke="#2b6fb5" stroke-width="0.5"/>
<rect x="822.0" y="410.8" width="4.0" height="4.6" fill="none" stroke="#2b6fb5" stroke-width="0.7"/>
<path d="M824.0,410.8v4.6M822,413.1h4" stroke="#2b6fb5" stroke-width="0.5"/>
<rect x="810.3" y="395.2" width="4.0" height="4.0" fill="none" stroke="#a8692c" stroke-width="0.7"/>
<path d="M812.3,395.2v4M810.3,397.2h4" stroke="#a8692c" stroke-width="0.5"/>
<rect x="810.3" y="402.0" width="4.0" height="4.4" fill="none" stroke="#a8692c" stroke-width="0.7"/>
<path d="M812.3,402v4.4M810.3,404.2h4" stroke="#a8692c" stroke-width="0.5"/>
<line x1="806.5" y1="400.6" x2="818.3" y2="400.6" stroke="#b17432" stroke-width="0.6"/>
<line x1="818.3" y1="409.4" x2="831.8" y2="409.4" stroke="#3383c4" stroke-width="0.6"/>
<polygon points="769.5,409.3 778.1,402.5 793.9,415.7 793.9,436.4 769.5,435.5" fill="#3a8ed2" />
<polygon points="793.9,415.7 802.4,409.0 802.4,429.2 793.9,436.4" fill="#2b78be" />
<rect x="795.7" y="419.3" width="4.5" height="9.9" fill="#e8a93c" />
<rect x="775.8" y="412.0" width="9.0" height="8.0" fill="none" stroke="#2b6fb5" stroke-width="0.9"/>
<path d="M780.3,412v8M775.8,416h9" stroke="#2b6fb5" stroke-width="0.7"/>
<rect x="775.8" y="426.5" width="9.0" height="8.0" fill="none" stroke="#2b6fb5" stroke-width="0.9"/>
<path d="M780.3,426.5v8M775.8,430.5h9" stroke="#2b6fb5" stroke-width="0.7"/>
<line x1="769.5" y1="422.5" x2="793.9" y2="423.3" stroke="#3383c4" stroke-width="0.8"/>
<polygon points="762.2,415.8 786.6,390.9 804.9,405.7 797.7,416.9 778.1,402.5 765.5,416.9" fill="#e8a93c" />
<polygon points="799.3,443.3 799.3,435.9 809.2,421.6 809.2,429.2" fill="#b98c66" />
<rect x="802.4" y="421.1" width="5.9" height="6.3" fill="#a0715f" />
<rect x="761.9" y="435.9" width="37.4" height="7.4" fill="#cda07a" />
<rect x="300.3" y="118.9" width="3.6" height="27.3" fill="#f9e6b8" />
<rect x="301.6" y="118.9" width="2.3" height="27.3" fill="#efa22c" />
<rect x="298.7" y="128.5" width="6.5" height="7.6" fill="#f8dd9c" />
<rect x="301.4" y="128.5" width="3.8" height="7.6" fill="#efac40" />
<rect x="316.3" y="99.0" width="3.6" height="47.2" fill="#f9e6b8" />
<rect x="317.6" y="99.0" width="2.3" height="47.2" fill="#efa22c" />
<rect x="316.2" y="93.0" width="3.9" height="6.9" fill="#8d8d8d" />
<rect x="316.2" y="93.0" width="3.9" height="1.6" fill="#3c3c3c" />
<rect x="297.2" y="146.0" width="28.2" height="6.1" fill="#e4e4e4" stroke="#bdbdbd" stroke-width="0.5"/>
<line x1="298.7" y1="149.1" x2="323.9" y2="149.1" stroke="#b5b5b5" stroke-width="1.6" stroke-dasharray="1.2,0.8"/>
<polygon points="292.4,106.9 311.6,106.9 312.5,118.8 291.4,118.8" fill="#2746a6" stroke="#9fb2e6" stroke-width="0.5"/>
<line x1="294.8" y1="106.9" x2="294.0" y2="118.8" stroke="#8ea4e2" stroke-width="0.45"/>
<line x1="297.2" y1="106.9" x2="296.7" y2="118.8" stroke="#8ea4e2" stroke-width="0.45"/>
<line x1="299.6" y1="106.9" x2="299.3" y2="118.8" stroke="#8ea4e2" stroke-width="0.45"/>
<line x1="302.0" y1="106.9" x2="301.9" y2="118.8" stroke="#8ea4e2" stroke-width="0.45"/>
<line x1="304.4" y1="106.9" x2="304.6" y2="118.8" stroke="#8ea4e2" stroke-width="0.45"/>
<line x1="306.8" y1="106.9" x2="307.2" y2="118.8" stroke="#8ea4e2" stroke-width="0.45"/>
<line x1="309.2" y1="106.9" x2="309.9" y2="118.8" stroke="#8ea4e2" stroke-width="0.45"/>
<line x1="292.1" y1="109.9" x2="311.8" y2="109.9" stroke="#8ea4e2" stroke-width="0.45"/>
<line x1="291.9" y1="112.8" x2="312.1" y2="112.8" stroke="#8ea4e2" stroke-width="0.45"/>
<line x1="291.6" y1="115.8" x2="312.3" y2="115.8" stroke="#8ea4e2" stroke-width="0.45"/>
<rect x="351.6" y="147.5" width="2.8" height="20.1" fill="#f9e6b8" />
<rect x="352.6" y="147.5" width="1.8" height="20.1" fill="#efa22c" />
<rect x="350.5" y="154.0" width="4.8" height="5.4" fill="#f8dd9c" />
<rect x="352.5" y="154.0" width="2.8" height="5.4" fill="#efac40" />
<rect x="346.7" y="167.4" width="12.0" height="5.9" fill="#e4e4e4" stroke="#bdbdbd" stroke-width="0.5"/>
<line x1="348.2" y1="170.4" x2="357.2" y2="170.4" stroke="#b5b5b5" stroke-width="1.6" stroke-dasharray="1.2,0.8"/>
<polygon points="346.3,139.3 359.1,139.3 360.0,147.5 345.8,147.5" fill="#2746a6" stroke="#9fb2e6" stroke-width="0.5"/>
<line x1="348.9" y1="139.3" x2="348.6" y2="147.5" stroke="#8ea4e2" stroke-width="0.45"/>
<line x1="351.4" y1="139.3" x2="351.5" y2="147.5" stroke="#8ea4e2" stroke-width="0.45"/>
<line x1="354.0" y1="139.3" x2="354.3" y2="147.5" stroke="#8ea4e2" stroke-width="0.45"/>
<line x1="356.5" y1="139.3" x2="357.2" y2="147.5" stroke="#8ea4e2" stroke-width="0.45"/>
<line x1="346.1" y1="143.4" x2="359.6" y2="143.4" stroke="#8ea4e2" stroke-width="0.45"/>
<line x1="358.7" y1="173" x2="375" y2="173" stroke="#1a1a1a" stroke-width="0.9"/>
<rect x="374.4" y="163.5" width="4.7" height="9.6" fill="#bdbdbd" />
<rect x="374.4" y="163.5" width="1.2" height="9.6" fill="#8f8f8f" />
<rect x="375.6" y="165.8" width="3.2" height="4.0" fill="#e0633c" />
<rect x="374.4" y="163.5" width="4.7" height="1.1" fill="#6a6a6a" />
<line x1="377" y1="173" x2="397" y2="195.6" stroke="#1a1a1a" stroke-width="0.8"/>
<path d="M395.8,192.3h2.8" stroke="#e8a93c" stroke-width="1.2" fill="none"/><path d="M397.2,192.3v8" stroke="#e8a93c" stroke-width="1" fill="none"/>
<line x1="425" y1="36" x2="425" y2="49.6" stroke="#c4dcc2" stroke-width="0.8"/>
<rect x="427.6" y="65.7" width="2.8" height="36.0" fill="#f9e6b8" />
<rect x="428.6" y="65.7" width="1.8" height="36.0" fill="#efa22c" />
<rect x="426.8" y="66.3" width="4.4" height="5.8" fill="#f6cf7a" />
<rect x="428.7" y="66.3" width="2.5" height="5.8" fill="#eea32e" />
<rect x="422.0" y="101.7" width="13.7" height="5.0" fill="#e4e4e4" stroke="#bdbdbd" stroke-width="0.5"/>
<line x1="423.5" y1="104.2" x2="434.2" y2="104.2" stroke="#b5b5b5" stroke-width="1.6" stroke-dasharray="1.2,0.8"/>
<rect x="415.6" y="57.0" width="26.4" height="8.7" fill="#2746a6" />
<path d="M416.9,58.1V60.9M416.9,61.9V64.6" stroke="#93a8e4" stroke-width="0.9" fill="none"/>
<path d="M419.6,58.1V60.9M419.6,61.9V64.6" stroke="#93a8e4" stroke-width="0.9" fill="none"/>
<path d="M422.2,58.1V60.9M422.2,61.9V64.6" stroke="#93a8e4" stroke-width="0.9" fill="none"/>
<path d="M424.8,58.1V60.9M424.8,61.9V64.6" stroke="#93a8e4" stroke-width="0.9" fill="none"/>
<path d="M427.5,58.1V60.9M427.5,61.9V64.6" stroke="#93a8e4" stroke-width="0.9" fill="none"/>
<path d="M430.1,58.1V60.9M430.1,61.9V64.6" stroke="#93a8e4" stroke-width="0.9" fill="none"/>
<path d="M432.8,58.1V60.9M432.8,61.9V64.6" stroke="#93a8e4" stroke-width="0.9" fill="none"/>
<path d="M435.4,58.1V60.9M435.4,61.9V64.6" stroke="#93a8e4" stroke-width="0.9" fill="none"/>
<path d="M438.0,58.1V60.9M438.0,61.9V64.6" stroke="#93a8e4" stroke-width="0.9" fill="none"/>
<path d="M440.7,58.1V60.9M440.7,61.9V64.6" stroke="#93a8e4" stroke-width="0.9" fill="none"/>
<path d="M424.1,52.2 C424.1,46.800000000000004 432.5,46.800000000000004 432.5,52.2Z" fill="#ececec" stroke="#b5b5b5" stroke-width="0.4"/>
<rect x="426.7" y="52.2" width="3.2" height="2.2" fill="#cfcfcf" />
<line x1="468.2" y1="128.6" x2="468.2" y2="142.5" stroke="#c4dcc2" stroke-width="0.8"/>
<rect x="470.6" y="158.1" width="2.8" height="36.3" fill="#f9e6b8" />
<rect x="471.6" y="158.1" width="1.8" height="36.3" fill="#efa22c" />
<rect x="469.8" y="158.7" width="4.4" height="5.8" fill="#f6cf7a" />
<rect x="471.7" y="158.7" width="2.5" height="5.8" fill="#eea32e" />
<rect x="465.2" y="194.4" width="13.9" height="4.7" fill="#e4e4e4" stroke="#bdbdbd" stroke-width="0.5"/>
<line x1="466.7" y1="196.8" x2="477.6" y2="196.8" stroke="#b5b5b5" stroke-width="1.6" stroke-dasharray="1.2,0.8"/>
<rect x="458.5" y="149.2" width="27.3" height="8.9" fill="#2746a6" />
<path d="M459.9,150.3V153.1M459.9,154.1V157.0" stroke="#93a8e4" stroke-width="0.9" fill="none"/>
<path d="M462.6,150.3V153.1M462.6,154.1V157.0" stroke="#93a8e4" stroke-width="0.9" fill="none"/>
<path d="M465.3,150.3V153.1M465.3,154.1V157.0" stroke="#93a8e4" stroke-width="0.9" fill="none"/>
<path d="M468.1,150.3V153.1M468.1,154.1V157.0" stroke="#93a8e4" stroke-width="0.9" fill="none"/>
<path d="M470.8,150.3V153.1M470.8,154.1V157.0" stroke="#93a8e4" stroke-width="0.9" fill="none"/>
<path d="M473.5,150.3V153.1M473.5,154.1V157.0" stroke="#93a8e4" stroke-width="0.9" fill="none"/>
<path d="M476.2,150.3V153.1M476.2,154.1V157.0" stroke="#93a8e4" stroke-width="0.9" fill="none"/>
<path d="M479.0,150.3V153.1M479.0,154.1V157.0" stroke="#93a8e4" stroke-width="0.9" fill="none"/>
<path d="M481.7,150.3V153.1M481.7,154.1V157.0" stroke="#93a8e4" stroke-width="0.9" fill="none"/>
<path d="M484.4,150.3V153.1M484.4,154.1V157.0" stroke="#93a8e4" stroke-width="0.9" fill="none"/>
<path d="M467.5,145.1 C467.5,139.7 475.9,139.7 475.9,145.1Z" fill="#ececec" stroke="#b5b5b5" stroke-width="0.4"/>
<rect x="470.1" y="145.1" width="3.2" height="2.2" fill="#cfcfcf" />
<line x1="516" y1="197.8" x2="516" y2="211" stroke="#c4dcc2" stroke-width="0.8"/>
<rect x="518.8" y="227.5" width="2.8" height="35.5" fill="#f9e6b8" />
<rect x="519.8" y="227.5" width="1.8" height="35.5" fill="#efa22c" />
<rect x="518.0" y="228.1" width="4.4" height="5.8" fill="#f6cf7a" />
<rect x="519.9" y="228.1" width="2.5" height="5.8" fill="#eea32e" />
<rect x="513.0" y="263.0" width="14.0" height="5.0" fill="#e4e4e4" stroke="#bdbdbd" stroke-width="0.5"/>
<line x1="514.5" y1="265.5" x2="525.5" y2="265.5" stroke="#b5b5b5" stroke-width="1.6" stroke-dasharray="1.2,0.8"/>
<rect x="506.9" y="218.4" width="27.1" height="9.1" fill="#2746a6" />
<path d="M508.3,219.5V222.4M508.3,223.4V226.4" stroke="#93a8e4" stroke-width="0.9" fill="none"/>
<path d="M511.0,219.5V222.4M511.0,223.4V226.4" stroke="#93a8e4" stroke-width="0.9" fill="none"/>
<path d="M513.7,219.5V222.4M513.7,223.4V226.4" stroke="#93a8e4" stroke-width="0.9" fill="none"/>
<path d="M516.4,219.5V222.4M516.4,223.4V226.4" stroke="#93a8e4" stroke-width="0.9" fill="none"/>
<path d="M519.1,219.5V222.4M519.1,223.4V226.4" stroke="#93a8e4" stroke-width="0.9" fill="none"/>
<path d="M521.8,219.5V222.4M521.8,223.4V226.4" stroke="#93a8e4" stroke-width="0.9" fill="none"/>
<path d="M524.5,219.5V222.4M524.5,223.4V226.4" stroke="#93a8e4" stroke-width="0.9" fill="none"/>
<path d="M527.2,219.5V222.4M527.2,223.4V226.4" stroke="#93a8e4" stroke-width="0.9" fill="none"/>
<path d="M529.9,219.5V222.4M529.9,223.4V226.4" stroke="#93a8e4" stroke-width="0.9" fill="none"/>
<path d="M532.6,219.5V222.4M532.6,223.4V226.4" stroke="#93a8e4" stroke-width="0.9" fill="none"/>
<path d="M515.4,213.6 C515.4,208.2 523.8000000000001,208.2 523.8000000000001,213.6Z" fill="#ececec" stroke="#b5b5b5" stroke-width="0.4"/>
<rect x="518.0" y="213.6" width="3.2" height="2.2" fill="#cfcfcf" />
<rect x="617.3" y="293.0" width="3.4" height="27.5" fill="#f9e6b8" />
<rect x="618.5" y="293.0" width="2.2" height="27.5" fill="#efa22c" />
<rect x="615.9" y="302.6" width="6.1" height="7.2" fill="#f8dd9c" />
<rect x="618.5" y="302.6" width="3.5" height="7.2" fill="#efac40" />
<rect x="610.7" y="320.5" width="16.6" height="7.5" fill="#e4e4e4" stroke="#bdbdbd" stroke-width="0.5"/>
<line x1="612.2" y1="324.2" x2="625.8" y2="324.2" stroke="#b5b5b5" stroke-width="1.6" stroke-dasharray="1.2,0.8"/>
<path d="M615,288.2 h7.2 v4.4 l-2,1.2 h-3.2 l-2,-1.2z M615,289.6 l-2.6,-1.4 v4 l2.6,-1.2z" fill="#e6e6e6" stroke="#c4c4c4" stroke-width="0.3"/>
<rect x="562.3" y="291.5" width="3.2" height="24.2" fill="#f4f4f4" />
<rect x="562.3" y="291.5" width="3.2" height="14.5" fill="#9a9a9a" />
<rect x="562.3" y="291.5" width="3.2" height="1.5" fill="#6a6a6a" />
<rect x="562.3" y="296.0" width="3.2" height="1.7" fill="#d9703c" />
<rect x="723.2" y="368.0" width="2.2" height="20.0" fill="#f9e6b8" />
<rect x="724.0" y="368.0" width="1.4" height="20.0" fill="#efa22c" />
<rect x="720.3" y="388.0" width="8.3" height="3.0" fill="#e4e4e4" stroke="#bdbdbd" stroke-width="0.5"/>
<line x1="721.8" y1="389.5" x2="727.1" y2="389.5" stroke="#b5b5b5" stroke-width="1.6" stroke-dasharray="1.2,0.8"/>
<rect x="717.8" y="361.7" width="14.6" height="6.7" fill="#2c4fb0" />
<rect x="717.8" y="361.7" width="14.6" height="1.4" fill="#5d7fd8" />
<circle cx="724.3" cy="359.6" r="1.5" fill="#d63a2a"/>
<line x1="152" y1="404.2" x2="402" y2="404.2" stroke="#ebebeb" stroke-width="1.5"/>
<line x1="187" y1="429.8" x2="438" y2="429.8" stroke="#ebebeb" stroke-width="1.5"/>
<line x1="255" y1="469.5" x2="505" y2="469.5" stroke="#ebebeb" stroke-width="1.5"/>
<rect x="400.0" y="243.9" width="4.6" height="169.8" rx="2.3" fill="#fcfcfc" stroke="#6f6f6f" stroke-width="0.55"/>
<rect x="401.1" y="267.0" width="2.4" height="24.6" rx="1" fill="#1d1d1d"/>
<rect x="400.3" y="267.0" width="4.0" height="24.6" fill="#1d1d1d" opacity="0.35"/>
<rect x="401.1" y="317.8" width="2.4" height="25.9" rx="1" fill="#1d1d1d"/>
<rect x="400.3" y="317.8" width="4.0" height="25.9" fill="#1d1d1d" opacity="0.35"/>
<rect x="401.1" y="370.0" width="2.4" height="25.2" rx="1" fill="#1d1d1d"/>
<rect x="400.3" y="370.0" width="4.0" height="25.2" fill="#1d1d1d" opacity="0.35"/>
<rect x="435.7" y="279.6" width="4.4" height="151.4" rx="2.2" fill="#fbfdfd" stroke="#7f9398" stroke-width="0.55"/>
<rect x="437.0" y="281.6" width="1.8" height="147.4" fill="#bfd9de"/>
<rect x="436.4" y="417.6" width="3" height="10.4" rx="1" fill="#1d1d1d"/>
<rect x="468.5" y="311.4" width="4.6" height="143.2" rx="2.3" fill="#fcfcfc" stroke="#6f6f6f" stroke-width="0.55"/>
<rect x="469.6" y="326.8" width="2.4" height="25.1" rx="1" fill="#1d1d1d"/>
<rect x="468.8" y="326.8" width="4.0" height="25.1" fill="#1d1d1d" opacity="0.35"/>
<rect x="469.6" y="368.5" width="2.4" height="25.5" rx="1" fill="#1d1d1d"/>
<rect x="468.8" y="368.5" width="4.0" height="25.5" fill="#1d1d1d" opacity="0.35"/>
<rect x="469.6" y="411.5" width="2.4" height="25.7" rx="1" fill="#1d1d1d"/>
<rect x="468.8" y="411.5" width="4.0" height="25.7" fill="#1d1d1d" opacity="0.35"/>
<rect x="503.1" y="344.0" width="4.4" height="127.2" rx="2.2" fill="#fbfdfd" stroke="#7f9398" stroke-width="0.55"/>
<rect x="504.4" y="346.0" width="1.8" height="123.2" fill="#bfd9de"/>
<rect x="503.8" y="456.8" width="3" height="10.8" rx="1" fill="#1d1d1d"/>
<line x1="416.3" y1="157" x2="425.9" y2="167.3" stroke="#b5502a" stroke-width="1.2"/>
<line x1="420.5" y1="157.7" x2="429.5" y2="166.7" stroke="#b5502a" stroke-width="1.2"/>
<line x1="414.5" y1="164.9" x2="424.1" y2="177.5" stroke="#b5502a" stroke-width="1.2"/>
<path d="M420.5,175.1C420.9,173.6 421.9,170.9 422.9,169.1C423.9,167.3 425.8,164.2 427.1,163.1C428.4,162.0 429.9,161.6 431.3,161.9C432.7,162.2 434.8,163.8 436.1,164.9C437.4,166.0 438.7,167.2 439.8,169.1C440.9,171.0 442.3,175.1 443.4,177.5C444.5,179.9 446.8,183.4 447.0,184.8C447.2,186.2 445.6,186.4 444.6,186.6C443.6,186.8 441.0,185.2 440.4,186.0C439.8,186.8 441.3,190.7 441.0,192.0C440.7,193.3 439.7,194.1 438.6,194.2C437.5,194.3 435.4,193.7 433.7,192.6C432.0,191.5 429.4,188.8 427.7,187.2C426.0,185.6 424.0,183.6 422.9,182.3C421.8,181.0 420.9,179.8 420.5,178.7C420.1,177.6 420.1,176.6 420.5,175.1Z" fill="#26aa3b" />
<line x1="424.1" y1="169.1" x2="432.5" y2="179.9" stroke="#0f6a30" stroke-width="1.3" stroke-linecap="round"/>
<line x1="427.7" y1="165.5" x2="436.1" y2="175.1" stroke="#0f6a30" stroke-width="1.3" stroke-linecap="round"/>
<line x1="421.7" y1="175.7" x2="428.9" y2="184.8" stroke="#0f6a30" stroke-width="1.3" stroke-linecap="round"/>
<line x1="431.5" y1="163.5" x2="438.5" y2="171.5" stroke="#0f6a30" stroke-width="1.3" stroke-linecap="round"/>
<line x1="506.9" y1="301.9" x2="517.3" y2="312.3" stroke="#b5502a" stroke-width="1.2"/>
<line x1="511" y1="301.5" x2="518.5" y2="310" stroke="#b5502a" stroke-width="0.9"/>
<path d="M512.2,313.5C512.4,311.9 513.9,308.8 515.0,307.7C516.1,306.6 518.2,305.7 519.6,306.1C521.0,306.5 522.8,308.0 524.2,310.0C525.6,312.0 527.4,316.4 528.8,319.2C530.2,322.0 532.6,326.7 533.0,328.5C533.4,330.3 532.4,330.6 531.2,330.8C530.0,331.0 527.4,330.7 525.4,329.6C523.4,328.5 520.3,325.6 518.5,323.8C516.7,322.0 514.8,319.7 513.8,318.1C512.8,316.5 512.0,315.1 512.2,313.5Z" fill="#26aa3b" />
<path d="M514.5,311.5 L520,318 M518,308 L524.5,316" stroke="#0f6a30" stroke-width="1.2" stroke-linecap="round" fill="none"/>
<text x="360.5" y="32.4" font-size="9.9" fill="#333333" font-family="'Liberation Sans','Noto Sans CJK SC',sans-serif">降雨量监测</text>
<text x="495.2" y="46.1" font-size="9.9" fill="#333333" font-family="'Liberation Sans','Noto Sans CJK SC',sans-serif">北斗位移监测</text>
<text x="529.8" y="128.4" font-size="9.9" fill="#333333" font-family="'Liberation Sans','Noto Sans CJK SC',sans-serif">地表裂缝监测</text>
<text x="633.8" y="222.6" font-size="9.9" fill="#333333" font-family="'Liberation Sans','Noto Sans CJK SC',sans-serif">土壤湿度监测</text>
<text x="717.5" y="283.1" font-size="9.9" fill="#333333" font-family="'Liberation Sans','Noto Sans CJK SC',sans-serif">视频监控</text>
<text x="794.5" y="305.5" font-size="9.9" fill="#333333" font-family="'Liberation Sans','Noto Sans CJK SC',sans-serif">声光报警站</text>
<text x="151.2" y="397.1" font-size="9.9" fill="#f4f4f4" font-family="'Liberation Sans','Noto Sans CJK SC',sans-serif">深部位移监测</text>
<text x="186.3" y="423" font-size="9.9" fill="#f4f4f4" font-family="'Liberation Sans','Noto Sans CJK SC',sans-serif">孔隙水压力监测</text>
<text x="254.7" y="463.2" font-size="9.9" fill="#f4f4f4" font-family="'Liberation Sans','Noto Sans CJK SC',sans-serif">地下水位监测</text>
<polyline points="409.8,39.4 352.5,39.4 317.9,93.5" fill="none" stroke="#303030" stroke-width="1.1" />
<polyline points="554.5,52.7 429.0,52.7" fill="none" stroke="#6a6a6a" stroke-width="1.4" />
<polyline points="589.0,135.6 393.5,135.6 376.6,163.5" fill="none" stroke="#303030" stroke-width="1.1" />
<polyline points="693.6,229.5 601.9,229.5 564.6,292.0" fill="none" stroke="#303030" stroke-width="1.1" />
<polyline points="757.0,290.3 621.0,290.3" fill="none" stroke="#303030" stroke-width="1.1" />
<polyline points="844.2,312.2 751.2,312.2 724.6,358.0" fill="none" stroke="#303030" stroke-width="1.1" />
</svg></body></html>
